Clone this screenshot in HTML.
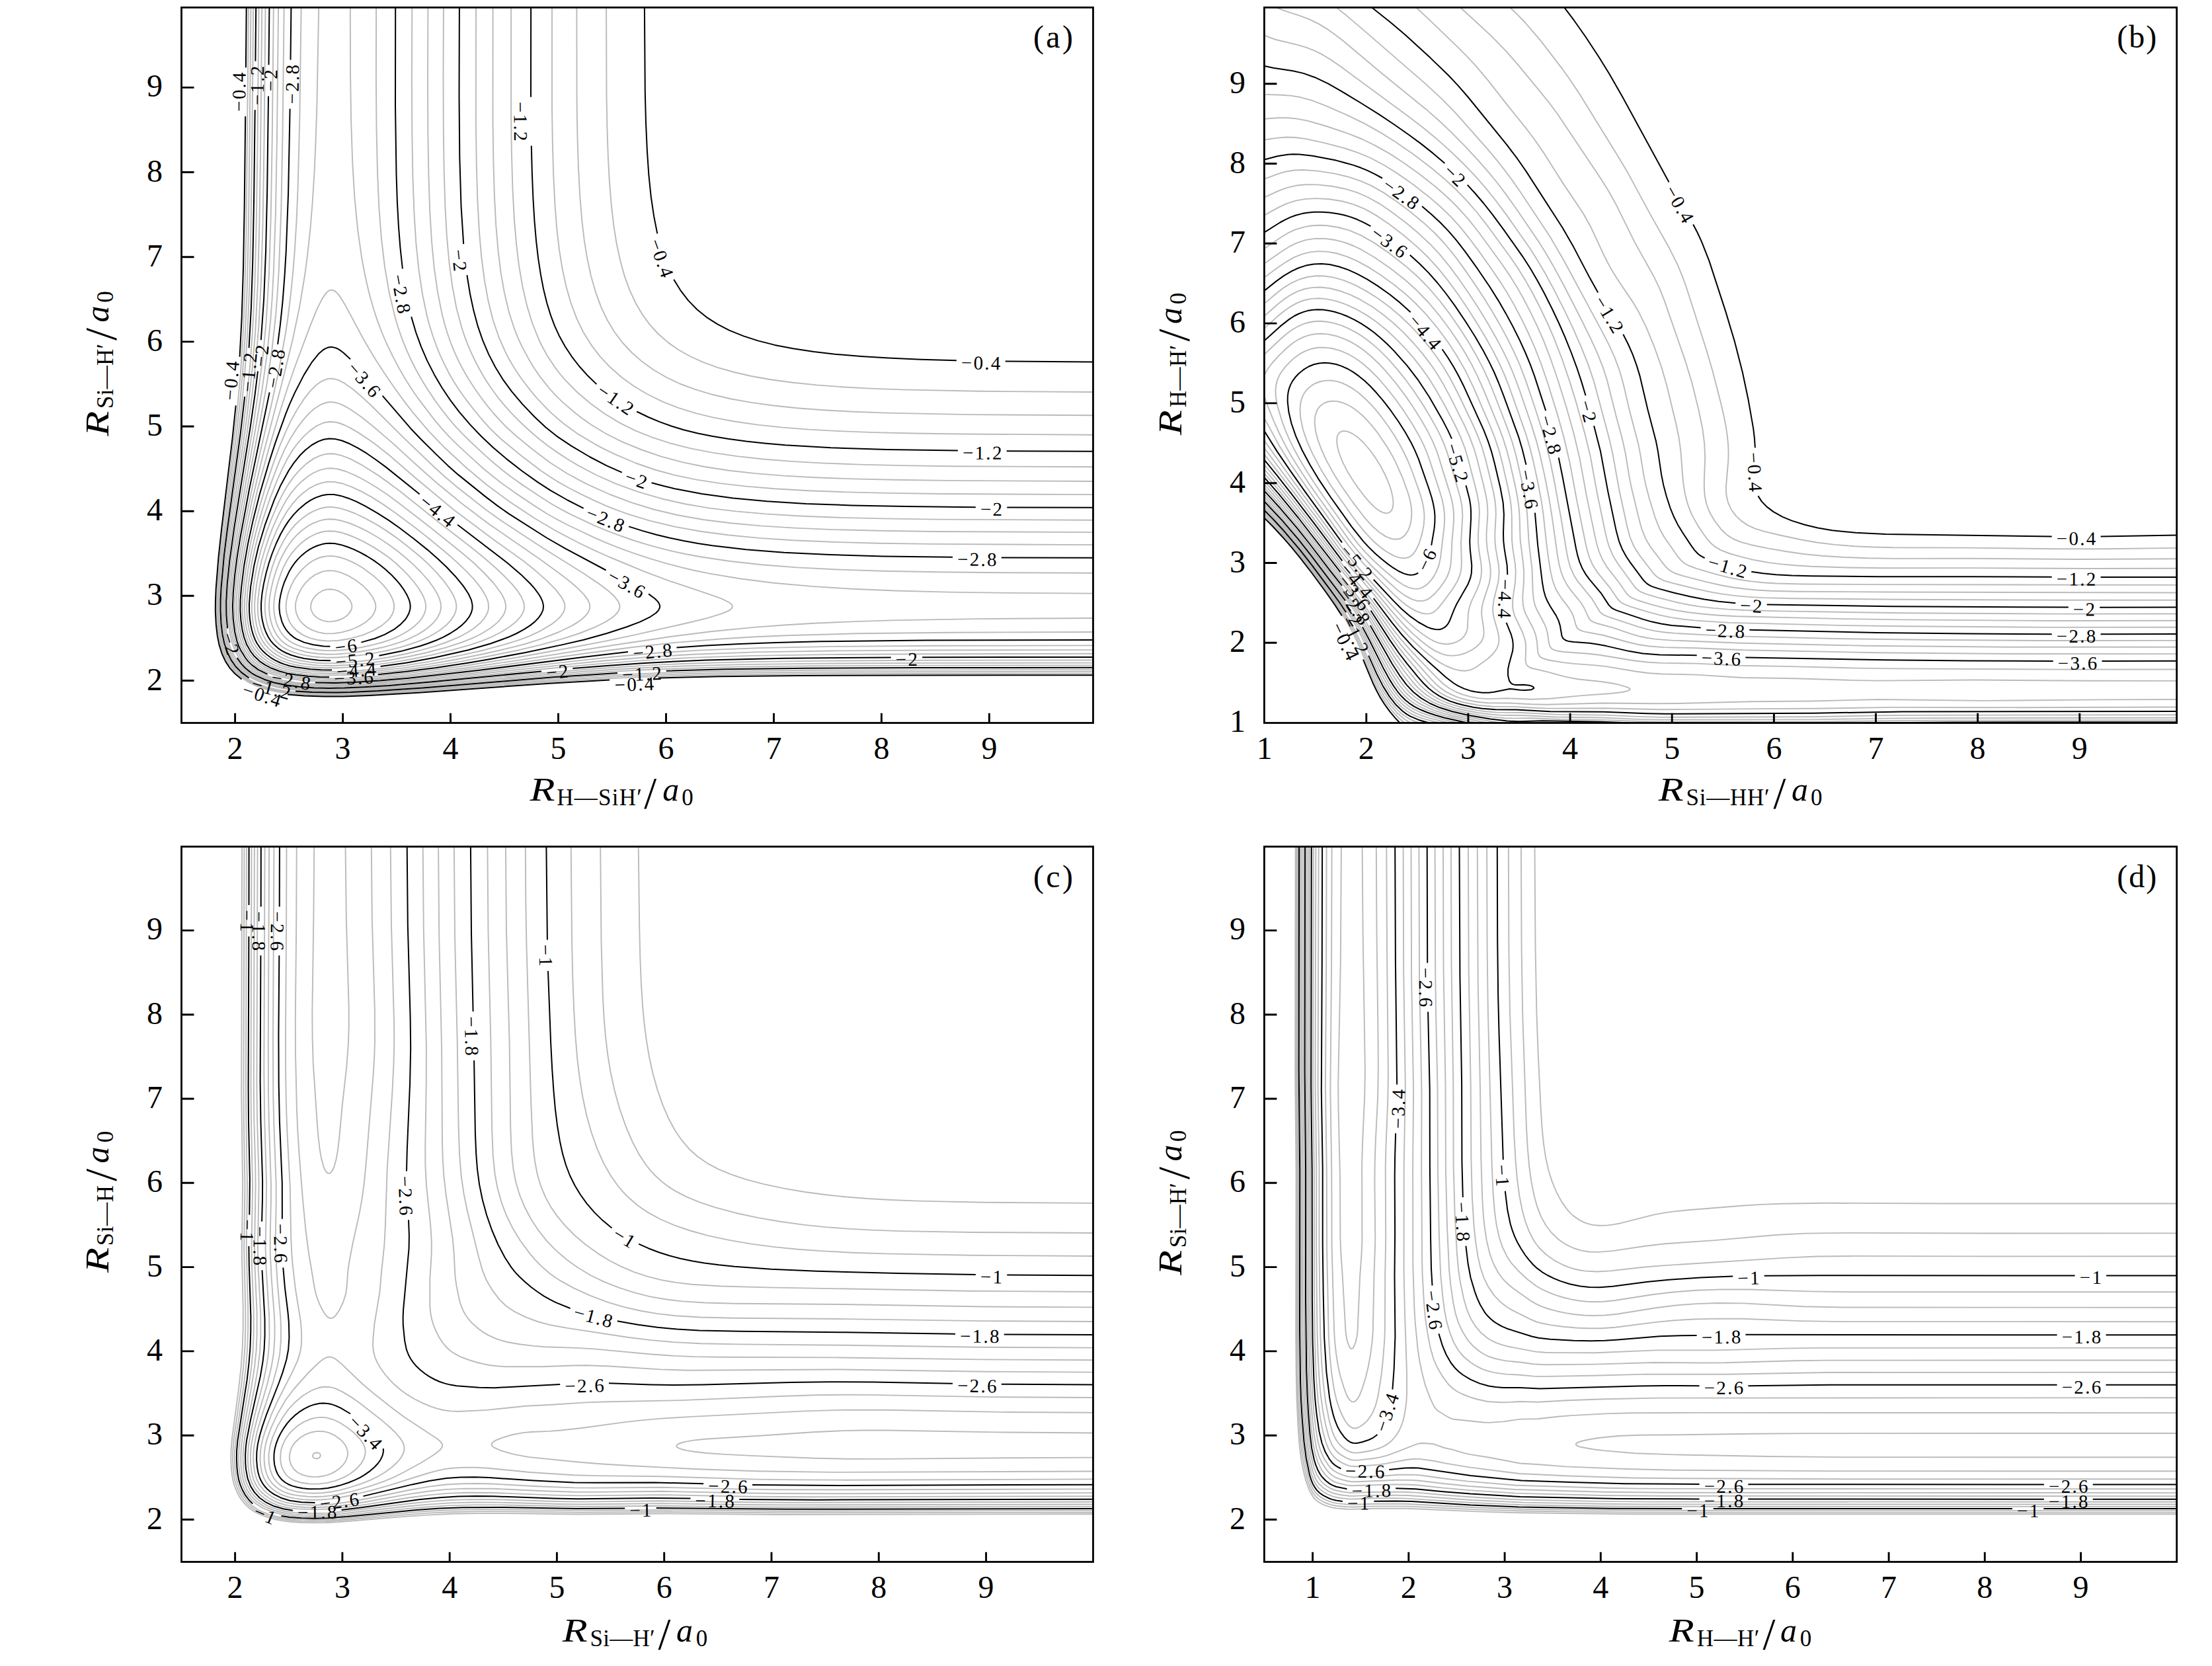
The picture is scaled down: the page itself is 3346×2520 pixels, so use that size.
<!DOCTYPE html>
<html lang="en"><head><meta charset="utf-8"><title>Potential energy contour plots</title>
<style>html,body{margin:0;padding:0;background:#fff}svg{display:block}text{font-family:'Liberation Serif', 'DejaVu Serif', serif;fill:#000}</style></head>
<body>
<svg width="3346" height="2520" viewBox="0 0 3346 2520">
<rect width="3346" height="2520" fill="#fff"/>
<g id="panel-a">
<path d="M489.5 939.1l-6.3-2.4l-5.8-3.9l-3.6-3.9l-3-5.8l-0.8-3.8l0.4-5.8l2.1-5.9l4.1-5.8l5-4.6l6-3.5l5.9-2l5.9-0.5l5.9 0.7l5.9 1.8l6 3.1l6.7 5l5.1 5.8l2.2 3.9l1.1 3.9l0 3.9l-1.1 3.8l-4 5.8l-4.1 3.6l-3.6 2.3l-4.3 2.1l-5.9 2.1l-9.9 1.4l-3.9-0.2l-6-1.1M491.5 958.2l-9.9-1.8l-9.8-3.5l-8.2-4.6l-6.7-5.8l-3.2-3.9l-2.4-3.8l-3.2-7.6l-1.3-7.9l0.5-7.8l2.8-10l5.7-11.3l6.1-8.3l7.9-7.7l7.9-5.4l9.9-4.2l7.9-1.5l9.8 0.3l9.9 2.4l11.8 5.1l11.9 7.1l9.8 7.7l8.4 8.4l7 9.7l3.4 7.7l0.8 3.9l0 3.9l-0.8 3.8l-1.5 3.9l-2.4 3.9l-3.1 3.9l-7.8 6.7l-9.9 5.9l-11.8 5.1l-13.8 3.9l-13.9 2l-11.8-0.2M495.5 969.6l-13.9-1.3l-11.8-2.9l-5.9-2.2l-5.9-2.8l-9-6.3l-4.1-3.9l-3.2-3.8l-3.5-5.5l-1.9-4.2l-2.8-9.7l-0.8-5.8l-0.1-5.8l0.6-5.8l1.5-7.8l2.4-7.7l3.1-7.7l3.9-7.8l3.6-5.8l8.3-10.6l9.9-9.1l5.9-4.1l5.9-3.1l5.9-2.4l5.9-1.5l6-0.9l5.9-0.1l5.9 0.6l7.9 1.7l7.9 2.6l8.6 3.7l9.1 4.6l7.9 4.8l16.2 11.9l13.4 12.5l5.8 6.8l4.2 5.8l3.5 5.8l2.6 5.8l1.5 5.9l0.3 5.8l-1.2 5.8l-1.6 3.8l-3.2 5.3l-3.8 4.4l-9.1 7.8l-13.1 7.7l-15.5 6.5l-17.8 5.1l-19.7 3.3l-15.7 0.6M481.6 983.3l-17.7-3l-7.9-2.2l-7.3-2.7l-6.5-3.1l-4.5-2.7l-4.9-3.9l-4.4-4.6l-4-5.4l-3.9-7.3l-2.3-5.9l-2.2-7.7l-1.3-7.8l-0.6-7.7l0.3-7.8l0.8-7.7l2.2-11.6l3.1-11.7l3.9-11.6l3.9-9.7l4-8.2l4.2-7.2l5.7-8l5.9-6.9l5.9-5.8l7.9-6.5l7.9-5.1l7.9-3.8l7.9-2.7l5.9-1.2l7.9-0.6l7.9 0.6l9.9 2l9.8 3.2l11.9 4.8l11.8 5.8l13.8 7.8l11.8 7.5l11.9 8.4l9.8 8l10.7 9.9l9.4 9.7l8.3 9.6l7.2 9.7l5.7 9.7l3.3 7.7l1.6 7.8l-0.2 5.8l-2.3 7.7l-3.3 5.9l-4.6 5.8l-6 5.8l-7.5 5.8l-9.2 5.8l-11.3 5.8l-9.4 3.9l-11.6 3.8l-14.4 3.9l-15.7 3.4l-14.3 2.4l-15.6 2l-13.5 0.9l-11.8 0l-11.9-0.8M481.6 989l-9.8-1.2l-9.9-1.8l-16.2-4.8l-7.5-3.3l-5.9-3.5l-5.9-4.6l-3.9-4.1l-4.3-5.8l-3.6-6.7l-2.8-6.8l-2.3-7.8l-1.5-7.7l-0.9-9.7l-0-7.7l0.9-9.7l2.3-13.6l2.7-11.6l4-13.5l5-13.6l4.4-9.7l5.9-10.8l5.9-9l5.8-7.3l6.1-6.5l7.9-6.9l7.9-5.6l7.9-4.3l9.8-3.8l7.9-1.8l7.9-0.6l7.9 0.6l9.9 2l11.8 3.7l13.8 5.8l13.8 6.9l14.8 8.6l14.8 9.7l13.8 10l13.8 11.2l12.9 11.7l11.5 11.6l10.1 11.6l7.1 9.7l5.9 9.7l3.5 7.7l2.1 7.8l0 7.7l-1.5 5.8l-4 7.8l-6.2 7.7l-6.3 5.8l-7.8 5.8l-9.5 5.8l-11.8 5.8l-9.9 4.1l-17 5.6l-14.6 3.9l-17.7 3.7l-15.8 2.7l-17.8 2.4l-17.7 1.4l-13.8 0.3l-13.9-0.8M495.5 994.8l-11.9-0.5l-11.8-1.3l-9.9-1.6l-9.8-2.3l-7.9-2.4l-8.7-3.5l-6.9-3.9l-5.3-3.9l-4.8-4.5l-4.3-5.2l-3.7-5.8l-3.8-8.4l-2.4-7.1l-2.2-9.6l-1.2-9.7l-0.2-9.7l0.8-11.6l2.5-15.5l3.5-15.5l4.4-15.5l4.6-13.1l6-13.6l5.9-11.6l6.1-10.1l5.7-7.9l7.9-8.8l7.9-7.3l9.9-7.2l7.9-4.4l9.8-4l9.9-2.1l7.9-0.3l9.8 1.2l11.9 3.2l13.8 5.2l15.8 7.6l17.7 9.8l15.8 10l13.8 9.7l18.9 14.7l16.5 13.5l12 10.9l12.1 12.4l11.7 13.5l8.5 11.6l5.8 9.7l3.9 9.7l1.1 7.7l-0.7 5.8l-2.9 7.8l-5.3 7.7l-5.4 5.8l-9.4 7.8l-8.8 5.8l-10.6 5.8l-13.2 5.8l-16.4 5.7l-13.3 4l-15.2 3.9l-18.9 3.9l-21.7 3.5l-17.7 2.2l-19.8 1.7l-15.7 0.3M479.7 1002.7l-11.9-1.3l-11.8-1.9l-11.8-2.7l-7.9-2.5l-7.9-3.4l-7.9-4.5l-7-5.2l-5.9-5.8l-4.5-5.8l-4.3-7.5l-3.3-8l-2.6-9.1l-2-10.2l-0.9-9.7l-0.2-9.7l0.7-11.6l2.3-17.4l2.9-15.5l4.3-17.5l4.7-15.8l6.1-17.1l7.7-18.4l7.9-15.7l7.9-13.2l7.9-10.9l7.9-9l7.9-7.3l9.8-7.3l9.9-5.2l9.9-3.4l7.9-1.3l9.8 0.1l11.9 2.3l13.8 4.9l15.7 7.2l15.8 8.8l17.8 11.3l17.7 12.3l31.5 23.5l19.6 15.5l25.7 21.3l15.5 13.6l14.3 13.5l12.7 13.6l10.7 13.5l6.9 11.6l2.5 5.8l1.1 3.9l0.6 7.8l-0.6 3.8l-1.2 3.9l-4.3 7.8l-6.7 7.7l-9.3 7.7l-12 7.8l-11.2 5.8l-18.6 7.7l-17 5.8l-20.2 5.9l-24 5.8l-25.8 5.2l-23.7 3.7l-23.7 2.9l-25.6 2.1l-17.8 0.5l-17.7-0.7M479.7 1006.4l-23.7-2.8l-11.8-2.5l-8.5-2.5l-9.3-3.7l-7.4-4l-6.4-4.4l-5.9-5.1l-5.5-6l-4.1-5.8l-3.1-5.8l-3.1-7.8l-2.7-9.6l-1.8-9.7l-1.1-11.6l-0.2-9.7l0.8-13.6l2.2-17.4l2.8-15.5l4.4-19.3l5.5-18.9l5.9-17.5l5.9-15.3l7.9-17.8l7.9-15.5l5.9-10.1l5.9-8.6l7.9-9.5l7.9-7.9l9.9-8l7.9-5l9.8-4.4l9.9-2.5l7.9-0.4l9.8 1.3l11.9 3.5l13.8 5.9l13.8 7.1l17.7 10.5l17.8 11.8l15.8 11.6l50.8 39.3l48.1 38.8l15.8 13.5l16.1 15.5l14.2 15.5l10.1 13.5l3.5 5.8l2.6 5.8l1.9 7.8l0 3.9l-0.7 3.8l-1.3 3.9l-2 3.9l-4.2 5.8l-3.6 3.9l-4.2 3.8l-7.5 5.8l-12.3 7.8l-15.5 7.7l-14.9 5.8l-24.1 7.8l-28.9 7.7l-26 5.8l-31.7 5.9l-31.6 4.4l-31.6 2.9l-23.6 1l-21.7-0.6M489.5 1010.3l-13.8-0.8l-13.8-1.4l-13.8-2.3l-11.8-2.9l-9.9-3.5l-7.9-3.9l-7.3-4.6l-7.2-5.8l-5.6-5.8l-5.5-7.7l-4-7.7l-2.8-7.9l-2.4-9.6l-1.9-11.6l-0.9-11.7l0.1-11.6l1.6-19.3l2.9-19.4l4.2-21.3l5.1-20.1l7.9-25.2l7.9-21.3l9.9-23.2l7.9-16l7.9-13.3l7.9-11l9.8-11.2l9.9-9.1l9.9-7l9.8-4.7l9.9-2.7l7.9-0.4l5.9 0.5l7.9 1.8l7.9 2.7l7.9 3.4l17.7 9.5l21.7 13.7l17.8 12.5l15.8 11.8l59.1 47.2l54.9 42.7l16.6 13.6l15.4 13.5l14.3 13.6l11 11.6l7.8 9.7l6.1 9.7l3.1 7.7l0.7 5.8l-0.3 3.9l-1.1 3.9l-1.8 3.8l-2.4 3.9l-7 7.8l-9.8 7.7l-12.5 7.7l-15.5 7.8l-14.1 5.8l-17 5.8l-27.4 7.8l-31.8 7.7l-28.1 5.8l-30.1 5.2l-29.6 4l-27.6 2.7l-25.7 1.6l-21.7 0.1M485.6 1016.1l-15.8-1l-13.8-1.5l-11.8-1.8l-11.9-2.8l-7.9-2.6l-9.8-4.4l-8.9-5.3l-7.4-5.8l-5.8-5.8l-5.5-7.2l-4-7l-3.6-9l-2.6-9.7l-2-11.6l-1.3-13.6l-0.2-11.6l1.1-19.4l2.7-22.2l3.9-23.5l4.8-22l6.1-23.3l6.9-22.6l9.9-29l9.8-25.2l7.9-17.9l7.9-15.7l7.9-13.2l7.9-10.7l9.8-11.1l9.9-9l9.9-6.8l9.8-4.3l7.9-1.5l7.9 0.2l7.9 1.8l7.9 3l9.9 4.9l11.8 7l13.8 9.2l13.8 10l19.8 15.6l39.3 34l55.8 46.5l60.7 45.5l44.4 31.9l19.5 15.5l17.5 15.5l13.5 13.6l9 11.6l3.7 7.7l0.8 3.9l0 3.9l-0.9 3.8l-1.7 3.9l-2.6 3.9l-3.4 3.9l-4.1 3.8l-7.6 5.8l-16.2 9.7l-16.3 7.8l-15.1 5.8l-24.9 7.7l-29.1 7.8l-33.6 7.7l-48.8 9.7l-35.6 5.8l-32.2 4.3l-37.5 3.5l-33.6 2l-25.6-0.1M471.8 1018.1l-15.8-1.6l-13.8-2.1l-9.9-2.2l-9.8-3.1l-9.9-4.2l-7.6-4.3l-8-5.8l-6.1-5.8l-5.9-7.3l-4-6.5l-3.4-7.5l-3.1-9.7l-2.4-11.6l-1.7-13.6l-0.6-11.6l0.3-13.6l2-23.2l3.5-25.2l4.7-25.1l6.3-27.1l6.3-23.1l9.8-32.2l9.9-28.1l9.9-25.5l7.9-17.9l7.8-15.1l9.9-15.8l9.9-13.4l9.8-11l7.9-6.9l9.9-6.2l7.9-2.8l3.9-0.7l5.9 0l6 1.1l5.9 2l5.9 2.7l7.9 4.4l17.7 12.2l17.8 14.3l27.6 23.6l43.4 39.6l24 21.3l39.2 32.3l41.4 31.2l76.5 52.7l29.2 21.3l17.5 13.5l11.2 9.7l9.3 9.7l5.6 7.7l2.4 5.9l0.5 3.8l-0.5 3.9l-1.5 3.9l-2.5 3.8l-3.5 3.9l-4.4 3.9l-5.2 3.9l-9.5 5.8l-19.8 9.6l-24.6 9.7l-24.5 7.8l-22.1 5.8l-42 9.7l-38.2 7.7l-43.5 7.7l-44.6 6.5l-39.4 4.4l-39.5 2.9l-29.6 0.9l-25.6-1M463.9 1020.1l-15.8-1.9l-11.8-2.1l-9.9-2.6l-9.9-3.4l-8.2-3.7l-9.5-5.8l-7.2-5.8l-6.6-7.2l-5.8-8.3l-3.8-7.8l-2.8-7.7l-2.5-9.7l-2-11.6l-1.3-13.6l-0.3-13.5l0.6-13.6l2.3-23.2l3.9-27.1l5.8-30.3l5.9-25.8l7.9-29.7l7.9-26.7l11.8-35.9l9.9-27l9.8-23.3l7.9-16.6l9.9-17.8l9.8-15l9.9-12.5l7.9-7.9l5.9-4.5l4-2.4l7.9-2.9l3.9-0.6l3.9 0.1l7.9 2l9.9 5l11.8 8.4l11.9 9.8l15.8 14.6l51.5 51.2l44.5 42.6l17.1 15.5l17.1 14.4l43.2 34l25.8 18.5l59.2 38.8l63.2 39.5l25.8 17.4l12.6 9.7l8.5 7.7l6.1 7.8l2.2 5.8l0 3.9l-1.3 3.8l-2.5 3.9l-3.7 3.9l-4.8 3.9l-5.8 3.8l-6.8 3.9l-11.9 5.8l-24.1 9.7l-23.4 7.7l-35.1 9.7l-32.6 7.8l-47.1 9.6l-41.7 7.8l-48.1 7.7l-48.5 6.4l-43.4 4.2l-39.4 2.4l-27.7 0.3l-25.6-1.5M473.8 1025.8l-15.8-1.3l-15.8-2l-12.7-2.6l-11-3.1l-9.8-3.7l-9.5-4.8l-8.3-5.5l-6.8-6.1l-6.4-7.7l-4.8-7.8l-4.5-9.7l-3.1-9.6l-2.4-11.7l-1.8-13.5l-0.7-13.6l0.2-15.5l1.7-23.2l3.1-25.2l3.8-24l5.9-31.2l13.8-60.8l17.8-65l17.7-58.7l11.9-36.8l11.8-33.5l21.7-57.9l9.9-24.1l7.9-15.8l5.9-8.3l3.9-3.3l2-0.9l3.9-0.1l4 2l3.9 3.8l4 5.3l7.9 13.2l26.5 49.6l18.4 31l13.8 21.3l14.6 21.3l14 19.3l13.5 17.5l24.6 29l24.3 25.2l31.1 29l32.2 27l35.6 26.2l36.7 24.2l30.3 18.1l37.5 19.7l21.7 10.4l23.7 10.6l53.3 22.2l39.4 14.6l61.4 20.6l15.9 5.8l11.8 5.8l2.4 2l1.6 1.9l0.5 1.9l-0.5 2l-1.6 1.9l-2.7 1.9l-3.6 2l-9.8 3.8l-19.6 5.9l-31.2 7.7l-76.6 17.4l-45.7 9.7l-50.3 9.7l-85.6 15.5l-85.8 13.5l-53.5 7.1l-45.3 5.1l-37.2 3.3l-35.8 2.1l-25.7 0.6l-23.6-0.7M1653.5 935l-175.6 1.1l-130.2 2.3l-55.2 1.7l-61.2 2.7l-45.4 2.7l-45.3 3.4l-65.1 6.3l-61.2 7.8l-88.8 13.2l-140.7 22.4l-79.9 11.7l-57.5 7.2l-39.3 4.4l-35.7 3.3l-35.5 2.4l-29.6 1.1l-21.7-0.1l-21.7-1.2l-21.7-2.5l-15.8-3.2l-15.8-5l-13.8-6.4l-8.7-5.9l-4.5-3.8l-4.5-4.9l-7.6-10.6l-5.6-11.6l-3.7-11.6l-3.2-17.5l-1.5-19.3l0.1-17.5l1.7-22.9l3.3-27.4l3.9-25.2l6.6-36.1l7.9-37.8l15.8-66l28.9-109.8l17.2-69.7l10.2-48.4l8.3-50.3l4-31l4-36.8l3.3-40.6l2.8-44.6l1.9-42.6l1.9-56.1l2.9-151M529.8 11.3l0.2 96.8l1.1 75.5l2.2 63.9l3 50.3l4.9 50.4l6.1 42.5l4 21.3l4.2 19.4l4.3 17.4l5.6 19.4l5.7 17.4l6.6 17.4l7.5 17.5l8.4 17.4l9.1 17.4l10 17.4l9.8 15.5l10.7 15.5l23.6 31l11.4 13.5l10.7 11.6l13.8 13.8l25 23l15.2 13.6l15.1 12.4l14.3 10.8l17.2 12.2l27.9 18.8l19.5 12.3l15.7 9l15.9 8.3l41.4 19.7l19.7 8.5l19.7 7.7l21.7 7.7l23.7 7.7l23.7 7l21.7 5.8l19.7 4.6l23.7 4.9l47.3 7.9l49.4 6.2l57.2 5.2l61.1 3.9l65.1 2.7l80.9 2.1l96.7 1.3l122.3 0.7M1653.5 956l-215 0.7l-142.1 1.6l-106.5 2.9l-47.4 2.1l-49.3 2.9l-71 5.7l-63.1 6.9l-71.1 9.2l-144.2 20.3l-94.3 11.6l-67.2 6.8l-31.6 2.3l-27.6 1.5l-23.7 0.5l-21.7-0.5l-21.7-1.5l-19.7-2.7l-15.8-3.6l-13.7-4.7l-12-5.7l-8.9-5.9l-8.2-7.8l-7.2-9.6l-6.2-11.7l-4.1-11.6l-2.9-13.5l-2.1-17.4l-0.6-17.5l0.8-19.3l2-22.2l3-24.3l8.8-52.8l13.8-68.2l9.9-43.9l16.9-71.3l12.2-56.1l9.8-54.2l3.8-25.2l3.8-31l3.6-34.8l2.9-36.8l2.6-42.6l2-46.5l2.8-108.4l2.3-168.4M569.1 11.3l-0.2 106.5l0.6 77.4l1.5 65.8l2.4 54.2l3.6 46.5l5.1 42.6l6.7 38.7l8.3 34.9l5.1 17.4l6 17.4l6.2 15.5l7 15.5l7.9 15.5l8.7 15.5l9.6 15.5l10.4 15.4l9.9 13.6l10.6 13.5l9.9 11.7l10.3 11l14.4 14.1l21.1 19.6l13.8 12.2l13.1 10.8l12.7 9.7l16.5 11.6l26.7 17.9l17.7 11.2l13.9 7.9l15.8 8.3l33.5 15.7l19.7 8.2l19.8 7.5l19.7 6.9l19.7 6.2l19.8 5.5l19.7 4.9l21.7 4.7l21.7 4l43.4 6.5l49.3 5.4l53.3 4.2l61.1 3.1l69.1 2.2l82.8 1.5l98.7 1l136.1 0.5M1653.5 976.4l-238.7 0.4l-153.9 1.1l-112.4 2.2l-90.8 3.5l-65.1 4.2l-67.1 6l-69 7.6l-142.9 16.6l-91.5 9.7l-57.6 4.8l-51.3 2.5l-23.7 0.1l-21.7-0.9l-21.7-2l-15.7-2.5l-15.8-3.9l-11.9-4.2l-11.8-5.6l-9.9-6.6l-7.9-7.5l-6.8-9.1l-6.4-11.6l-4.3-11.6l-3.1-13.6l-2.1-15.4l-1-17.5l0.2-17.4l1.5-21.3l2.2-21.3l5.9-42.6l12-68.3l23-119.5l9.5-52.2l7.8-52.3l5.7-52.3l2.5-32.9l2.2-36.8l3.4-89l2.2-114.2l2.2-191.7M623.3 11.3l-0.4 110.3l0.4 79.4l1.1 65.8l2 54.3l2.9 46.4l4.2 40.7l5.5 36.8l6.9 32.9l4.2 15.5l4.8 15.4l5.6 15.5l5.6 13.6l6.3 13.5l7 13.6l7.4 12.7l8 12.5l9.6 13.5l11.9 15.5l11.9 14.3l11.5 12.8l9.6 9.7l10.5 9.7l29.6 24.4l29.6 22.4l13.8 9.3l11.8 7.3l15.8 8.9l19.8 10.2l17.7 8.5l17.8 7.9l15.7 6.3l17.8 6.4l33.5 10.3l37.5 9l39.5 7.2l41.4 5.5l47.4 4.6l51.3 3.4l59.1 2.5l69.1 1.9l82.8 1.2l242.7 1.2M1653.5 983.1l-244.6 0.4l-151.9 1l-114.5 1.9l-92.7 3.3l-67.1 4l-69 5.8l-61.2 6.1l-187.9 20.1l-60.7 5.8l-51.2 3.7l-41.5 1.8l-23.6 0l-21.7-0.9l-21.7-2.1l-15.6-2.5l-15.4-3.8l-12.4-4.4l-11.9-5.7l-9.8-6.6l-7.9-7.4l-6.8-8.8l-6.5-11.6l-4.5-11.7l-3.2-13.5l-2.4-17.4l-0.9-17.5l0.2-17.4l2.9-36.8l5.2-40.6l8.1-49.7l24.6-138.1l8.4-50.3l7.6-54.3l5.4-52.2l2.4-32.9l2.1-38.8l3.1-89l2.1-118.1l2.1-193.6M647.4 11.3l-0.4 108.4l0.3 79.4l1.1 65.8l1.8 54.2l2.8 46.5l3.9 40.6l5 34.9l6.5 32.9l4 15.5l4.6 15.2l4.8 13.8l5.5 13.6l6.2 13.5l7.1 13.6l7.8 13.5l8.7 13.6l9.4 13.5l9.6 12.8l10.3 12.4l10.5 11.6l9.5 9.7l11.2 10.4l27.3 22.5l27.9 21l24.7 15.8l14.8 8.2l15.7 8.1l33.6 15.2l33.5 12.7l33.6 10.3l35.5 8.5l39.4 7l41.5 5.2l45.3 4.2l51.3 3.2l59.2 2.5l69.1 1.7l82.8 1.2l240.7 1.1M1653.5 988.8l-248.6 0.4l-153.9 0.9l-114.4 1.8l-92.7 3l-73 4.2l-73 5.8l-65.1 6.1l-184 18.6l-44.8 4l-53.3 3.7l-41.4 1.6l-23.7 0l-21.7-1l-19.7-1.9l-16.4-2.5l-15.2-3.8l-13.8-4.8l-11.8-5.7l-9.9-6.6l-7.9-7.4l-6.6-8.5l-6.6-11.6l-4.6-11.6l-3.4-13.6l-2.4-17.4l-1.1-17.4l0.1-17.5l2.5-34.8l4.3-37l6-39.5l24.5-146.1l8.1-52.3l7.6-58.1l5-52.3l4.3-71.6l2.8-87.1l2-116.2l2.1-201.3M670.9 11.3l-0.4 106.5l0.3 77.4l0.9 63.9l1.7 54.2l2.5 44.5l3.7 40.7l4.7 34.8l6.2 32.9l7.8 29.1l4.5 13.5l5.2 13.6l5.9 13.5l6.6 13.6l7.3 13.5l8.3 13.9l7.6 11.3l8.5 11.6l9.4 11.6l10.3 11.7l11.2 11.6l12.1 11.6l12 10.7l11.8 9.7l11.8 9l13.8 9.7l14.4 9.3l15.2 9.2l27.7 14.6l29.5 13.2l33.6 12.1l35.5 10.4l35.5 8.1l37.5 6.3l39.4 4.8l45.4 4l51.3 3.1l57.2 2.3l67.1 1.6l82.9 1.2l236.7 1.1M1653.5 998.5l-254.5 0.3l-153.9 0.8l-116.4 1.5l-90.7 2.6l-67.1 3.2l-67.1 4.4l-73 5.8l-223.7 20.3l-54.4 3.5l-45.4 1.7l-23.7-0.2l-21.7-1l-19.7-1.8l-15.8-2.4l-15.6-3.7l-14-4.7l-11.8-5.6l-10.9-7.1l-8.6-7.8l-7.6-9.7l-6.4-11.6l-4.6-11.6l-3.4-13.5l-2.2-15.5l-1.3-17.5l0-19.3l2.5-38.7l5-43.4l5.9-41.1l20.4-132.4l7.7-58l5.9-54.2l4-48.4l3.7-71.7l2.5-87.1l1.9-120l2-203.3M720 11.3l-0.1 176.2l0.9 63.9l1.6 52.2l2.5 46.5l3.4 38.7l4.5 34.9l5.6 30.9l7.2 29.1l8.5 25.1l10.2 23.3l6 11.6l6.8 11.6l7.6 11.6l8.3 11.6l10.2 13.2l9.9 11.6l19 19.8l20.1 17.4l22 15.9l25.7 15.4l15.8 8.3l15.7 7.6l30.2 12.8l29 10l29.6 8.1l33.6 7l35.5 5.5l39.4 4.5l43.4 3.7l51.3 2.9l57.2 2.2l65.1 1.5l80.9 1.1l226.9 1.1M1653.5 1002.6l-256.5 0.3l-155.8 0.7l-118.4 1.5l-90.7 2.4l-71.1 3.3l-67 4.2l-69.1 5.3l-218.4 19l-55.8 3.5l-45.4 1.5l-23.7-0.2l-21.7-1.1l-19.7-1.8l-17.7-2.9l-15.8-4l-13.8-4.9l-11.2-5.6l-10.5-7.3l-8.8-8.2l-7-9.2l-5.9-10.8l-5-12.9l-3.3-13.5l-2.1-15.5l-1.3-17.5l-0.1-17.4l1.9-32.9l3.7-36.8l5.6-42.6l19.5-131.6l5.5-40.7l7.6-67.7l4.8-58.1l3.6-71.6l2.4-87.2l1.8-116.1l2.2-214.9M745.6 11.3l-0.1 172.3l0.9 62l1.5 50.3l2.3 44.5l3.3 38.7l4.3 34.7l5.2 29.2l6.9 29.1l8.1 25.1l5.4 13.6l5.3 11.6l12.4 23.2l7.2 11.6l7.9 11.7l15.3 19.3l8.9 9.7l9.8 9.7l20.3 17.4l11.6 8.9l11.9 8.3l22.6 13.8l24.7 12.3l29.6 12.2l29.6 10.1l31.6 8.5l33.5 6.9l37.5 5.7l39.4 4.4l43.4 3.5l47.4 2.6l57.2 2.2l63.1 1.4l78.9 1.1l221 1.1M1653.5 1006.4l-260.4 0.2l-157.8 0.7l-118.4 1.5l-90.8 2.3l-63.1 2.6l-67.1 3.9l-69 5l-222 18.6l-56.2 3.4l-45.4 1.4l-23.6-0.3l-23.7-1.2l-19.7-2l-15.8-2.7l-15.8-4.1l-13.8-5l-10.1-5l-11.3-7.7l-8.4-7.7l-7.5-9.7l-6.1-11.1l-4.7-12.2l-3.4-13.5l-2.3-15.5l-1.3-17.4l-0.2-19.4l2-34.8l4.1-40.7l5.8-44.2l18.8-132l6.2-50.3l5.5-54.2l3.9-52.3l3.5-73.5l2.3-87.2l1.8-121.9l2-209.1M773.1 11.3l0 164.6l0.9 60l1.5 50.3l2.3 44.5l3.3 38.8l4 32.9l5.3 30.9l6.7 29.1l8.3 27.1l9.7 24l5.2 10.8l6.3 11.6l12.6 19.4l7.4 9.7l8.2 9.7l17.5 17.8l19.8 17l21.6 15.7l23.7 14.4l23.6 11.8l25.7 10.3l27.6 8.9l29.6 7.5l33.5 6.5l37.5 5.5l39.5 4.4l43.4 3.4l47.3 2.7l55.3 2l63.1 1.5l76.9 1.1l213.1 1.1M1653.5 1012.9l-422.2 0.8l-118.4 1.3l-92.7 2.1l-63.1 2.5l-69.1 3.7l-61.1 4.1l-227.9 17.7l-52.3 2.9l-43.4 1.2l-23.6-0.3l-23.7-1.2l-19.7-1.8l-16.6-2.7l-15.9-3.9l-14.9-5.2l-11.8-5.9l-9.9-6.8l-9.8-8.9l-6.5-8.1l-5.7-9.6l-5.7-13.6l-3.7-13.5l-2.4-15.5l-1.6-19.4l-0.3-19.3l1.9-36.8l4.1-42.6l22.7-174.3l5.6-48.4l4.7-50.3l3.6-52.3l3.2-73.5l2.2-89.1l1.7-123.9l2-211M835 11.3l0 152.9l0.9 56.2l1.4 46.4l2.1 42.6l2.9 36.8l3.6 31l4.7 29.4l5.8 26.7l7.2 25.2l8.7 23.2l9.8 20.3l11.9 19.3l13.8 18l15 16l17.6 15.5l18.7 13.5l19.7 11.7l23.6 11.6l23.7 9.3l25.7 7.9l27.6 6.8l31.6 5.9l35.5 5.1l35.5 3.8l41.4 3.2l45.5 2.5l53.2 2l61.1 1.4l71 1l199.3 1.2M1653.5 1015.8l-426.1 0.8l-114.5 1.2l-92.7 2l-69 2.6l-69.1 3.7l-63.1 4.2l-222.9 16.6l-51.3 2.7l-43.4 1.1l-25.7-0.4l-23.6-1.3l-19.3-2l-16.3-2.8l-15.7-4l-13.8-4.9l-11.3-5.7l-10.5-7.2l-9.1-8.3l-7.8-9.7l-6.4-11.6l-4.6-11.6l-3.6-13.5l-2.3-15.5l-1.6-19.4l-0.2-19.3l1.7-34.9l3.9-42.6l21.4-170.3l5.7-50.4l4.6-50.3l3.7-54.2l3.1-71.7l2.1-89l1.6-122l2.1-216.8M872.4 11.3l0.2 145.2l0.9 52.3l1.5 46.4l2.2 40.7l3 36.7l3.6 31l4.4 27.1l5.8 26.8l6.7 23.6l8.5 23.2l9.2 19.4l11.1 18.5l12.3 16.3l14.6 15.5l15.6 13.6l16.7 11.9l19.7 11.5l20.1 9.5l23.3 8.7l25.6 7.6l27.7 6.4l31.5 5.7l33.6 4.6l35.5 3.7l39.4 3l45.4 2.5l51.3 1.9l124.3 2.5l187.4 1.1M1653.5 1018.6l-426.1 0.7l-120.4 1.2l-90.7 2l-67.1 2.4l-69 3.6l-61.2 3.9l-221 16l-53.2 2.7l-43.4 1.1l-23.7-0.3l-23.7-1.2l-19.7-1.9l-17.8-2.9l-15.7-3.9l-13.8-4.7l-11.9-5.9l-11.2-7.6l-8.7-7.7l-8.1-9.7l-5.6-9.7l-5.7-13.5l-3.7-13.6l-2.5-15.5l-1.6-19.3l-0.4-19.4l1.4-31l3-36.8l4.4-40.6l12.6-100.7l8.8-75.5l5.9-63.9l3.8-58.1l2.8-69.7l2.1-89l3.6-338.8M917.1 11.3l0.4 133.6l0.9 48.4l1.5 44.5l2 36.8l2.8 34.8l3.5 31l4.3 27.1l5.8 27.1l6.5 23.3l7.8 21.2l9 19.4l10.2 17.4l11.4 15.5l12.4 13.6l14.8 12.9l15.7 11.1l17.8 10l19.7 8.9l21.7 7.9l25.3 7.2l26 6l29.6 5.2l33.6 4.6l35.5 3.6l37.4 2.8l43.4 2.4l47.4 1.8l118.4 2.4l171.6 1.2" fill="none" stroke="#bababa" stroke-width="1.9" stroke-linejoin="round"/>
<path d="M489.5 977.4l-15.7-2.1l-13.9-3.7l-11.8-5.3l-4-2.5l-4.8-3.9l-3.7-3.9l-3.3-4.2l-3.2-5.4l-2.6-5.8l-3.1-11.7l-0.9-7.7l-0.1-5.8l0.7-7.8l1.4-7.7l2.4-9.7l3.2-9.7l7-15.4l4.6-7.8l4.1-5.8l4.3-5.1l5.9-6l5.9-4.9l5.9-4.1l6-3.3l5.9-2.6l7.9-2.4l5.9-1l5.9-0.3l7.9 0.5l7.9 1.6l9.8 3.1l9.9 3.9l9.9 4.7l9.8 5.4l10.6 6.6l9.2 6.6l8.6 7l8.5 7.7l7.4 7.8l6.5 7.7l5.6 7.8l4.6 7.7l3.4 7.7l1.4 5.9l0.3 3.8l-0.3 3.9l-1.6 5.8l-2.9 5.8l-2.6 3.9l-7.3 7.7l-10.1 7.8l-14.1 7.7l-14.6 5.8l-20.8 5.9M499.4 977.7l-9.9-0.3M481.6 998.7l-21.7-2.8l-9.8-2.2l-9.9-3l-7.9-3.2l-5.9-3.2l-5.9-4l-5.9-5.2l-4.9-5.5l-3.8-5.8l-3.8-7.8l-2.8-7.7l-2.4-9.7l-1.2-7.7l-0.7-9.7l0.1-9.7l1.3-13.5l2.4-14.4l3.7-16.6l4.2-15.1l4.7-13.9l6.2-15.5l6.8-14.5l6-10.6l5.9-9l7.9-10l7.9-8.2l9.8-8.3l7.9-5.3l7.9-4l9.9-3.3l7.9-1.3l9.8 0.1l9.9 1.8l11.8 3.8l11.9 5l13.8 6.9l17.7 10.2l17.8 11.3l15.8 11.1l21.7 16.5l21.6 17.4l15.5 13.6l12.2 11.6l14.7 15.5l11.1 13.6l7.7 11.6l4.5 9.6l1.6 7.8l-0.2 5.8l-1.6 5.8l-2.9 5.8l-6 7.8l-6.2 5.8l-7.6 5.8l-9 5.8l-10.8 5.8l-8.4 3.9l-14.5 5.6l-11.9 3.9l-29 7.9l-33.1 6.7M500.1 999.3l-18.5-0.6M469.8 1012.2l-21.7-2.9l-9.9-2.1l-7.8-2.3l-6.3-2.4l-8.1-3.9l-6.4-3.8l-6.9-5.3l-4.8-4.4l-5-5.8l-3.9-5.8l-3.1-5.8l-2.9-7.5l-2-6.9l-1.9-8.9l-1.3-9.6l-0.7-9.7l-0.1-11.6l2.1-25.7l5.2-32.4l6.6-28.4l9.9-32.8l13.8-37.5l9.8-22.3l11.9-21.9l7.9-11.9l9.8-12.1l7.9-7.8l9.9-7.7l9.8-5.4l7.9-2.8l7.9-1.2l9.9 0.5l9.9 2.4l11.8 4.8l11.8 6l13.8 8.4l13.8 9.5l15.8 11.7l50.5 40.6M692.2 793.8l75.3 57.7l20.4 17.4l13.9 13.6l6.8 7.7l5.8 7.8l3.6 5.8l2.6 5.8l1.3 5.8l0 3.9l-0.7 3.8l-2.6 5.8l-4.1 5.9l-5.7 5.8l-7.3 5.8l-9 5.8l-10.8 5.8l-12.8 5.8l-26.8 9.7l-33.9 9.7l-51 11.6l-41.9 7.7l-39.7 5.6M502 1013.5l-16.4-0.3l-15.8-1M483.6 1023.9l-17.7-1.1l-17.8-2l-13.8-2.4l-11.8-3.1l-11.9-4.5l-9.8-5.1l-7.9-5.4l-8-7.5l-6-7.7l-5.8-10.4l-3.9-10.7l-2.8-11.8l-2-13.6l-1-15.5l0.2-15.5l1.5-19.3l4.1-32.8l5.9-33.4l7.9-36.2l9.9-38.9l13.8-46.9l9.8-30.5l15.8-43.8l5.9-14.6l7.9-17.6l13.8-26.7l11.9-19.1l9.8-12.2l6-5.4l3.9-2.6l4-1.8l3.9-0.8l3.9 0.1l6 1.7l3.9 2.1l5.9 4.3l10.9 10M578.6 598.7l42.7 49.5l14.8 15.5l25.4 25.2l16.2 15.5l15.2 13.5l41.3 33.2l17.7 13.5l17.8 12.5l57.2 36.4l27.6 15.9l62.1 33.1M981.1 898.4l9.8 7.3l3.9 3.9l2.5 3.9l0.9 3.8l-0.3 2l-1.8 3.8l-3.6 3.9l-8.4 5.8l-15.9 7.8l-20.2 7.7l-29.9 9.7l-35 9.7l-33.2 7.7l-54.9 11.6l-52.2 9.7l-33.6 5.8l-51.2 7.8l-45.5 5.8l-40.8 4.1M498 1024.2l-14.4-0.3M439.5 90.6l0.9-79.3M598.2 11.3l-0.2 149.1l1.5 102.6l1.4 42.6l2 36.7l2.6 33l3.4 31.2M622.2 479.1l7 23.9l7.8 21.3l9.2 21.3l10.9 21.3l11.3 19.4l13 19.3l13.3 17.5l16.5 19.3l16.6 17.4l18.2 17.1l21.7 18.5l21.7 16.9l23.7 16.8l19.7 12.7l25.7 14.7l24.2 12.4M951.1 796.4l19.8 6.2l21.7 6.1l19.7 4.8l21.7 4.6l21.7 3.9l21.7 3.3l51.3 6l57.2 4.4l69.1 3.4l80.9 2.3l105.1 1.4M1514.8 843.4l138.7 0.4M1653.5 968l-252.5 0.6l-159.8 1.7l-67.1 1.6l-55.2 2l-51.3 2.5l-44.1 3M950 986.1l-67.9 7.8l-159.3 20.2l-104.7 11.6l-43.7 3.9l-39.5 2.5l-31.6 1l-26.4-0.5M404.6 1019.8l-13.7-6.7l-9.9-7.2l-5.4-5.3l-4.4-5.6l-7.3-11.8l-2.7-5.9l-2.8-7.7l-3.2-13.6l-2.5-19.3l-0.8-19.4l0.9-21.3l2.5-27.1l3.5-27.1l4.7-29l13.6-72.9l30.6-146.4M420.1 520.8l3.8-29.4l3.6-34.8l3-38.7l2.3-38.8l3.3-87.1l2.5-127.6M406.5 97.9l0.9-86.6M694.9 11.3l-0.4 133.6l0.8 92.9l2.2 73.6l3.7 57.7M706.4 416.2l4.7 28.8l5.4 25.1l6.3 23.3l7.3 21.2l9.1 21.3l10 19.4l12 19.4l12.8 17.4l16.3 19.3l18.5 19.4l16.5 15.5l17 13.5l22.1 14.9l27.6 16.3l25.6 13.3l23.2 10.3M985.6 730.2l18.8 5.1l17.8 4.3l39.5 7.5l47.3 6.4l51.3 4.8l59.2 3.6l68 2.5l81.9 1.7l106.5 1.1M1523.3 767.4l130.2 0.4M1653.5 993.9l-258.4 0.4M1347.7 994.4l-161.8 1.4l-118.3 2.8l-45.4 1.8l-51.3 2.8l-53.3 3.7l-51.3 4.2M819 1015.4l-167.7 16.1l-63.1 5.4l-37.5 2.3l-29.6 1.3l-23.7 0.4l-21.7-0.5l-23.6-1.6l-19.8-2.5l-17.7-3.8l-14.8-4.8l-12.8-5.9l-6-3.5l-5.7-4.2l-4.5-3.8l-5.5-5.9l-6.8-9.3M344.1 950.3l-1.7-19.4l-0.2-21.3l1.6-27.1l3.6-34.9l7-50.3l24.2-151l6.9-48.4l4.5-36.4M394.8 514.3l4.3-61.6l3-73.6l2.1-92.9l1.8-140.8M386.4 92.5l0.8-81.2M803.1 11.3l-0.1 135.4M803.8 220.5l1.1 42.5l1.5 36.8l2.1 34.8l2.5 29l3.1 27.1l3.9 25.2l4.1 21.3l5.2 21.3l5.5 17.9l6.4 17l7.1 15.4l8.6 15.5l10.3 15.5l11 14.2l11.8 13.2l14.4 13.9M963.2 622.5l17.6 8.5l17.7 7.4l17.8 6.3l18 5.5l21.4 5.3l21.4 4.3l24 4l27.6 3.8l27.6 2.9l31.6 2.7l69.1 4l84.8 2.8l107.1 1.6M1522.7 682.2l130.8 0.5M1653.5 1009.8l-268.3 0.2l-165.7 0.8l-122.3 1.5l-89.4 2.4M934 1018.1l-97.2 6.2l-197.3 16.1l-67.7 4.7l-40.8 1.9l-31.6 0.6l-27.6-0.5l-24.8-1.7M376.6 1025.5l-11.4-8.4l-8.7-8.8l-6.7-9.7l-5.8-11.6l-4.6-13.5l-2.9-13.6l-2.1-17.4l-0.9-19.4l0.1-15.5l1-19.3l4.4-48.4l4.6-36.8l20.1-147.1l6.5-56.2M376.6 526.3l3.3-60.1l2.4-71.6l1.8-92.9l1.6-135.4M371.9 102.2l0.8-90.9M974.9 11.3l0.9 127.8l1.2 46.4l1.9 42.6l2.5 36.8l3.4 32.9l4.3 29.1l5.2 26.5M1019.2 422.7l10.1 16.4l11.9 15.5l13.3 13.6l14.3 11.6l16.5 10.6l17.8 9.2l21.7 8.8l21.7 7l25.6 6.5l27.7 5.4l31.3 4.8l31.8 3.6l39.4 3.3l41.5 2.6l49.1 2.1l54 1.5M1520.7 546.5l132.8 1.1M1653.5 1021.2l-280.1 0.2l-165.8 0.6l-118.3 1.3l-93.4 2.2M922.2 1028.5l-91.4 5.2l-197.2 14l-75 4.3l-39.5 1.4l-29.6 0.2l-29.6-1l-25-2.2M365.6 1027.5l-10.2-8.5l-7.9-8.7l-6.3-9.7l-5.4-11.6l-4.3-13.6l-2.7-13.5l-2-17.5l-1-19.3l0.1-15.5l0.8-19.4l3.7-46.4l4.4-40.7l16.9-141.3l5-48.4M362.6 539.8l3.1-60l2.3-73.6l1.7-94.8l1.5-135.4" fill="none" stroke="#000" stroke-width="2.0" stroke-linejoin="round"/>
<g font-size="29" letter-spacing="2.3"><text transform="translate(371.5 139.1) rotate(-89.5)" x="1.1" y="-0.2" text-anchor="middle">−0.4</text><text transform="translate(386.1 129.4) rotate(-89.5)" x="1.1" y="12.8" text-anchor="middle">−1.2</text><text transform="translate(406.3 121.6) rotate(-89.4)" x="1.1" y="12.8" text-anchor="middle">−2</text><text transform="translate(439.1 127.5) rotate(-89.3)" x="1.1" y="12.8" text-anchor="middle">−2.8</text><text transform="translate(803.4 183.6) rotate(89.4)" x="1.1" y="25.8" text-anchor="middle">−1.2</text><text transform="translate(1006.8 388.1) rotate(70.2)" x="1.1" y="16.8" text-anchor="middle">−0.4</text><text transform="translate(703.8 392.6) rotate(83.7)" x="1.1" y="18.8" text-anchor="middle">−2</text><text transform="translate(615.6 442.8) rotate(79.6)" x="1.1" y="18.8" text-anchor="middle">−2.8</text><text transform="translate(554.3 571.0) rotate(48.8)" x="1.1" y="14.8" text-anchor="middle">−3.6</text><text transform="translate(932.8 601.8) rotate(34.3)" x="1.1" y="12.8" text-anchor="middle">−1.2</text><text transform="translate(1483.8 545.9) rotate(1.0)" x="1.1" y="12.8" text-anchor="middle">−0.4</text><text transform="translate(1485.8 681.9) rotate(0.4)" x="1.1" y="12.8" text-anchor="middle">−1.2</text><text transform="translate(963.2 722.4) rotate(19.2)" x="1.1" y="12.8" text-anchor="middle">−2</text><text transform="translate(1499.6 767.3) rotate(0.3)" x="1.1" y="12.8" text-anchor="middle">−2</text><text transform="translate(916.9 782.6) rotate(21.9)" x="1.1" y="12.8" text-anchor="middle">−2.8</text><text transform="translate(663.5 770.6) rotate(38.8)" x="1.1" y="12.8" text-anchor="middle">−4.4</text><text transform="translate(1477.9 843.1) rotate(0.4)" x="1.1" y="12.8" text-anchor="middle">−2.8</text><text transform="translate(948.9 880.4) rotate(29.1)" x="1.1" y="12.8" text-anchor="middle">−3.6</text><text transform="translate(522.9 974.7) rotate(-7.4)" x="1.1" y="12.8" text-anchor="middle">−6</text><text transform="translate(536.8 995.6) rotate(-5.8)" x="1.1" y="12.8" text-anchor="middle">−5.2</text><text transform="translate(538.8 1010.8) rotate(-4.1)" x="1.1" y="12.8" text-anchor="middle">−4.4</text><text transform="translate(534.9 1022.2) rotate(-3.0)" x="1.1" y="12.8" text-anchor="middle">−3.6</text><text transform="translate(986.7 982.7) rotate(-5.2)" x="1.1" y="12.8" text-anchor="middle">−2.8</text><text transform="translate(1371.4 994.3) rotate(-0.2)" x="1.1" y="12.8" text-anchor="middle">−2</text><text transform="translate(842.7 1013.2) rotate(-5.2)" x="1.1" y="12.8" text-anchor="middle">−2</text><text transform="translate(970.9 1016.4) rotate(-2.6)" x="1.1" y="12.8" text-anchor="middle">−1.2</text><text transform="translate(959.1 1027.0) rotate(-2.3)" x="1.1" y="17.8" text-anchor="middle">−0.4</text><text transform="translate(440.8 1026.2) rotate(10.1)" x="1.1" y="12.8" text-anchor="middle">−2.8</text><text transform="translate(411.8 1035.4) rotate(15.7)" x="1.1" y="15.8" text-anchor="middle">−1.2</text><text transform="translate(400.3 1039.0) rotate(18.3)" x="1.1" y="22.8" text-anchor="middle">−0.4</text><text transform="translate(351.3 972.7) rotate(72.1)" x="1.1" y="12.8" text-anchor="middle">−2</text><text transform="translate(359.7 576.6) rotate(-85.4)" x="1.1" y="-0.2" text-anchor="middle">−0.4</text><text transform="translate(373.4 563.0) rotate(-85.0)" x="1.1" y="12.8" text-anchor="middle">−1.2</text><text transform="translate(392.4 537.9) rotate(-84.2)" x="1.1" y="12.8" text-anchor="middle">−2</text><text transform="translate(413.9 557.2) rotate(-80.3)" x="1.1" y="12.8" text-anchor="middle">−2.8</text></g>
<path d="M355.6 1093.5v-14.8M518.6 1093.5v-14.8M681.5 1093.5v-14.8M844.5 1093.5v-14.8M1007.5 1093.5v-14.8M1170.5 1093.5v-14.8M1333.4 1093.5v-14.8M1496.4 1093.5v-14.8M274.5 1029.5h19M274.5 901.3h19M274.5 773.2h19M274.5 645.0h19M274.5 516.9h19M274.5 388.7h19M274.5 260.5h19M274.5 132.4h19" stroke="#000" stroke-width="2.9" fill="none"/>
<rect x="274.5" y="11.3" width="1379.0" height="1082.2" fill="none" stroke="#000" stroke-width="2.8"/>
<g font-size="48"><text x="355.6" y="1148.2" text-anchor="middle">2</text><text x="518.6" y="1148.2" text-anchor="middle">3</text><text x="681.5" y="1148.2" text-anchor="middle">4</text><text x="844.5" y="1148.2" text-anchor="middle">5</text><text x="1007.5" y="1148.2" text-anchor="middle">6</text><text x="1170.5" y="1148.2" text-anchor="middle">7</text><text x="1333.4" y="1148.2" text-anchor="middle">8</text><text x="1496.4" y="1148.2" text-anchor="middle">9</text><text x="246.0" y="1043.5" text-anchor="end">2</text><text x="246.0" y="915.3" text-anchor="end">3</text><text x="246.0" y="787.2" text-anchor="end">4</text><text x="246.0" y="659.0" text-anchor="end">5</text><text x="246.0" y="530.9" text-anchor="end">6</text><text x="246.0" y="402.7" text-anchor="end">7</text><text x="246.0" y="274.5" text-anchor="end">8</text><text x="246.0" y="146.4" text-anchor="end">9</text></g>
<text transform="translate(802.4 1211.2)"><tspan x="-1" y="0" font-size="50" font-style="italic" textLength="38" lengthAdjust="spacingAndGlyphs">R</tspan><tspan x="39.8" y="7" font-size="35" textLength="128.8" lengthAdjust="spacing">H—SiH′</tspan><tspan x="171.8" y="11" font-size="68">/</tspan><tspan x="199.9" y="0" font-size="50" font-style="italic">a</tspan><tspan x="228.8" y="7" font-size="35">0</tspan></text>
<text transform="translate(164.0 658.8) rotate(-90)"><tspan x="-1" y="0" font-size="50" font-style="italic" textLength="38" lengthAdjust="spacingAndGlyphs">R</tspan><tspan x="40.8" y="7" font-size="35" textLength="98.1" lengthAdjust="spacing">Si—H′</tspan><tspan x="143.9" y="11" font-size="68">/</tspan><tspan x="171.4" y="0" font-size="50" font-style="italic">a</tspan><tspan x="201.1" y="7" font-size="35">0</tspan></text>
<text x="1563.0" y="72.3" font-size="48" textLength="60" lengthAdjust="spacing">(a)</text>
</g>
<g id="panel-b">
<path d="M2096 776.3l-3.9-0.9l-5.9-3l-6-4.4l-7.9-7.7l-7.8-9l-9.9-12.9l-7.9-11.4l-8-12.9l-5.8-11.2l-4-8.7l-3.9-10.9l-2-8l-0.9-7.7l0.4-5.8l1.1-3.9l1.4-2.2l1.9-1.9l2-1.1l4-0.8l5.9 0.9l7.9 3.6l7.9 5.7l7.9 7.4l9.8 11.5l7.9 10.9l7.9 12.6l7.9 15.3l5 11.7l3.8 11.6l2.4 11.6l0.3 7.8l-0.5 3.8l-1.1 3.9l-2 3.1l-1.9 1.7l-2 0.9l-4 0.4M2105.9 815.2l-3.9-1.2l-6-2.6l-9.8-6.4l-9.9-8.7l-11.8-13l-17.8-23.1l-17.8-25.4l-11.8-18.8l-10.6-19.4l-7.2-15.6l-5.7-15.3l-3.5-13.6l-1.4-11.6l0.1-5.8l0.6-5.4l2.6-8.2l2.3-3.8l3-3.5l5.9-4.1l6-2.2l5.9-0.8l5.9 0.2l5.9 1.1l6 1.8l7.9 3.7l6.1 3.8l7.7 5.6l7.9 7.1l6.4 6.6l7.4 8.5l7.9 10.1l13.8 20.4l6.7 11.3l6.2 11.7l10.8 24.2l8.6 24.2l2.6 9.6l1.5 7.8l0.9 7.7l0 7.8l-1.1 9.7l-2.1 7.7l-2.5 5.8l-3.9 5.9l-4 3.7l-3.9 2.1l-6 1l-5.9-0.6M2119.7 844.1l-5.9-1.4l-5.9-2.4l-5.9-3.1l-7.9-5l-7.9-6l-7.9-6.9l-13.8-14.5l-7.9-9.6l-11.9-15.7l-29.6-42.1l-15.8-25.3l-13.6-25.2l-8.6-19.3l-6-17.4l-3.7-17.5l-0.7-7.7l-0.1-7.7l0.8-7.8l1.4-5.8l2.3-5.8l2.2-3.9l2.9-3.8l3.8-3.9l5.2-3.9l4.2-2.4l7.9-3l7.9-1.4l7.9-0.1l7.9 1.1l7.9 2.3l7.9 3.4l7.9 4.5l9.9 7l9.2 8l8.5 8.4l8.1 9l9.7 12l9.9 13.5l8.7 13.2l8.1 13.6l7.2 13.5l5.6 12l5.9 14.5l12.7 35.5l2.7 9.6l2.2 9.7l1.2 9.7l0.2 7.7l-1 11.7l-2.8 13.5l-4.3 13.6l-4.6 9.6l-4.3 6l-2 1.9l-3.9 2.6l-5.9 1.7l-6-0.2M2137.5 890.4l-5.9-1.5l-7.9-3.6l-7.9-5l-9.9-7.5l-15.8-13.5l-13.8-12.8l-11.8-12.1l-9.9-11.2l-19.8-26l-31.6-44.4l-15.8-23.3l-11.8-18.5l-9.7-16.3l-8.5-15.5l-7.6-15.5l-5.7-13.5l-4.4-11.6l-7-23.3l-2-9.7l-1-7.7l-0.2-7.7l0.7-7.8l1.9-7.5l2.6-6l3.4-5.9l5.9-7.9l7-7.5l6.8-6.2l7.9-5.7l7.9-4.4l9.9-3.6l9.9-1.9l9.8-0.2l11.9 1.4l11.8 3.3l11.9 5l11.2 6.5l10.5 7.5l11.8 10.2l11.9 12l12.9 14.8l12.8 16.2l13.3 18.6l12.6 19.4l10.1 17.4l7.8 15.5l4.8 11.6l4.7 13l14.5 45.1l4 13.5l2 9.7l1.2 9.7l0.3 9.7l-0.5 9.7l-5.7 48.4l-2.6 11.6l-3.8 9.7l-3.1 5.8l-4.3 6.2l-4.9 5.4l-4.8 3.9l-4.2 2.3l-3.9 1.4l-4 0.6l-5.9-0.3M1912.4 567.9l4.5-8.7l7.2-9.7l10.4-11.6l11.5-11.2l9.8-8l7.9-5l7.9-3.9l8.7-2.9l9.1-1.7l9.9-0.5l9.9 0.9l11.8 2.6l11.9 4.1l9.8 4.6l9.9 5.7l9.9 6.9l11.8 9.7l11.9 11.3l11.8 12.9l13.8 16.6l13.5 17.9l12 17.4l12.1 19.2l10.1 17.6l7.7 15.5l6.4 15.5l18.7 60l3.3 11.6l2 9.7l1 7.7l0.5 9.7l-0.3 9.7l-2.4 27.1l-1.1 25.2l-0.8 9.6l-1.5 7.8l-1.8 5.8l-2.5 5.8l-3.2 5.8l-6.8 9.7l-8.3 9.7l-7.2 6.3l-5.9 3.3l-6 1.5l-7.9-0.3l-7.9-2.4l-9.8-5.2l-11.9-8.8l-13.8-12.4l-25.7-24.5l-15.8-16.8l-9.8-11.7l-9.9-12.9l-45.4-63.4l-16-23.1l-13.9-21.3l-10.7-17.4l-8.7-15.5l-8.7-17.4l-8.7-19.4l-9.4-23.2l-4.9-14.4M1912.4 536.3l26.9-25.5l6.9-5.8l7.7-5.7l7.9-4.8l7.9-3.7l7.9-2.6l9.8-1.9l9.9-0.5l9.9 0.9l9.9 1.9l11.8 3.6l11.9 5.1l11.8 6.3l11 7.2l10.7 8.1l12.8 11.2l12.9 13.1l13.8 15.6l12.7 15.9l11.3 15.5l11.7 17.4l13 21.3l10.9 19.3l5.8 11.6l5.1 11.7l4.3 11.6l3.7 11.6l16.6 58.1l2.6 13.5l0.9 13.6l-2.4 40.6l0.8 29.1l-0.2 7.7l-0.7 5.8l-1.3 5.8l-3.8 9.7l-6.9 11.6l-15 20.4l-7.9 9.8l-5.3 4.7l-2.6 1.5l-3.9 1.5l-5.9 0.5l-7.9-1.4l-7.9-3.1l-7.9-4.4l-7.9-5.5l-7.9-6.5l-9.9-9.1l-41.5-42l-11.8-13.2l-11.9-14.5l-13.8-18.4l-45.4-63.2l-29.5-42.9l-19.4-31l-22.2-41.3M1912.4 496.6l19.7-17.7l9.9-8.2l9.9-6.9l9.9-5.5l9.8-3.8l11.9-2.6l11.8-0.6l11.9 1.1l13.8 3l15.8 5.4l15.8 7.4l15.8 9.2l14.5 10.1l15.1 12.3l15.8 14.8l14.7 15.5l11.6 13.6l11.2 14.4l10.3 14.6l9.7 15.5l13.6 24.1l15.8 30.2l8.2 17.3l6.8 17.5l4.7 15.7l12 46.2l2.7 11.6l1.7 9.7l0.8 7.8l0.2 9.6l-1.8 31l0 11.6l1.1 11.6l3.4 21.3l0.6 9.7l-0.8 9.7l-2.4 9.7l-3.6 9.1l-8.5 18l-3.3 9.7l-1.7 9.6l-1 21.3l-1.4 5.8l-3.2 5.9l-4.6 4.7l-5.9 3.7l-6 2.4l-7.9 1.5l-5.9-0l-7.9-1.4l-7.9-3l-7.9-4.3l-9.9-6.7l-9.8-7.6l-9.9-8.6l-9.9-9.4l-15.8-16.9l-59.2-66.8l-11.9-14.8l-11.8-15.8l-71.1-97.1l-39.5-55.4M1912.4 478.2l19.7-17.4l9.9-7.9l9.9-6.6l9.9-5.1l11.8-4.2l11.9-2.1l11.8-0.4l13.8 1.5l15.8 4l15.8 5.9l15.8 7.8l17.7 10.6l15.9 11.4l15.8 13l15.8 14.9l15.9 16.9l11.7 13.8l11.9 15.5l9.9 14.5l9.8 16.3l11.9 22l19.9 39.8l7.9 17.4l6.6 17.5l5.2 17.4l10.1 40.6l3.1 13.6l1.7 9.7l0.9 9.7l0.2 9.6l-1.9 29.1l0.1 11.6l1.1 11.6l4.4 25.2l0.7 9.7l-0.4 7.7l-1.8 9.7l-8.9 27.1l-2.1 9.7l-0.5 5.8l0.2 5.8l2.9 19.3l0.4 7.8l-0.4 3.9l-1.1 3.8l-3 5.8l-5.4 5.8l-8.3 5.9l-9.9 4.8l-9.9 2.9l-9.8 1l-7.9-0.6l-7.9-2.1l-9.9-4.6l-9.9-6.2l-11.8-9.1l-11.9-10.4l-11.8-11.6l-15.8-17.4l-30.1-35.8l-33.1-37.9l-19.8-24.8l-36.4-49.6l-78.1-104.1M1912.4 459.4l17.8-15.2l11.8-9.1l11.9-7.3l11.8-5.3l11.9-3.5l13.8-1.8l11.8 0.3l13.9 2.1l15.8 4.5l15.8 6.6l17.7 9.4l17.8 11.2l17.6 13l16 13.4l15.8 15.1l15.8 17l12.1 14.5l11.6 15.5l10.4 15.5l10.3 17.4l12.1 23.3l21.2 44.5l8.5 19.3l5.8 15.5l5.7 19.4l8.9 36.4l3.6 15.9l2 11.6l0.9 9.7l0.3 9.6l-1.5 29.1l0.1 11.6l1.2 11.6l4.4 25.2l0.7 11.6l-1.4 13.5l-6.7 27.1l-1.5 11.7l0.1 5.8l1.1 7.7l6.6 23.2l1.4 7.8l0.1 5.8l-0.6 3.9l-1.1 3.8l-1.8 4.2l-5.4 7.5l-8.4 7.7l-17.8 12.8l-7.9 3.9l-7.9 1.4l-7.9-0.5l-9.9-2.4l-11.8-4.9l-7.9-4.4l-7.9-5.2l-9.9-7.4l-9.9-8.2l-17.7-16.7l-17.8-19.3l-38.5-47.8l-30.6-35.7l-13.8-16.8l-79.9-106.3l-40.6-52M1912.4 419.7l21.7-16l11.9-7.9l11.8-6.6l11.9-4.8l11.8-3l11.9-1.3l13.8 0.5l13.8 2.4l15.8 4.9l15.8 6.8l17.8 9.7l17.7 11.4l19.8 14.2l17.8 14.4l15.8 14.6l16.1 16.9l16.2 19.4l15.8 21.3l14 21.3l12.3 21.3l13.2 27.1l24.2 56.1l8.4 21.3l6.3 19.4l5 19.3l8.8 38.8l2.6 13.5l1.7 13.6l0.7 13.5l0.2 34.9l1.1 11.6l3.8 25.1l0.9 11.7l-0.8 15.4l-3.9 27.1l0.1 11.7l1.4 6.9l2.1 6.6l11.2 23.2l3.9 11.7l1 5.8l0.4 5.8l-0.7 19.3l1.2 5.8l1.1 2l2.1 1.9l5.3 2.5l22.7 5.3l26.7 7.3l19.7 3.9l35.6 3.7l16.7 2.5l9.2 1.9l13.3 3.9l3.8 1.9l0.8 2l-3.4 1.9l-8.8 1.9l-16.9 2l-44.4 3.1l-47.3 4.6l-27.7 1.1l-37.5-1.5l-29.6 0.8l-13.9-1l-11.8-2.2l-11-3l-10.2-3.9l-10.4-5.5l-9.9-7.3l-9.8-9.3l-37.6-39.2l-17.7-20.2l-11.9-15.2l-32.5-44.6l-44.5-53.6l-44.3-58.7l-23.9-30.9l-28.6-36l-19.7-23.6M3292.7 1058l-116.5 0.4l-177.7 1.5l-158-1.9l-100.7 2.5l-92.8 0.7l-108.6 2.8l-33.6 0.2l-79-0.7l-86.9 2.2l-21.7-0.4l-33.6-1.8l-33.5-0.2l-15.8-1.6l-15.8-3.1l-13.1-3.8l-9.6-3.9l-8.9-4.7l-7.9-5.6l-6.2-5.2l-7.7-7.7l-33.5-37.5l-11.9-14l-9.8-12.7l-29.5-42.3l-13-17.4l-42.4-51.4l-44.7-59l-32.4-41l-19.7-24.3l-15.8-18.3M1912.4 398.7l25.7-18l11.8-7.5l11.9-5.9l13.8-4.4l13.8-2l15.8 0.1l15.8 2.3l8.9 2.3l8.9 2.9l9.9 4l9.8 4.7l19.8 11.5l23.7 16.3l23.7 18.5l17.7 16l17.8 18.5l15.8 18.8l16.7 22.4l11.8 17.4l11 17.7l9.7 17.1l8.7 17.5l9.4 21.3l23 56.1l6.5 17.4l5.4 17.4l5 19.4l8.3 36.8l3 15.5l1.9 13.5l1.1 13.6l1.1 36.8l4.4 34.8l1.1 13.6l-0.1 13.5l-1.8 25.2l0.7 11.6l1.5 6.5l2.5 7l11.1 21.3l3.8 9.7l2 9.7l1.3 15.5l0.8 3.9l2.1 3.8l4 2.8l9.9 2.9l21.7 3.6l15.8 1.8l33.6 2.5l15.8 1.7l45.4 7.6l19.7 2.6l19.8 1.2l51.3 1.1l69.1 4.4l79 1.3l84.9 2.6l39.5 0.7l148.1-1.1l171.8 1.3l134.3 0.1M3292.7 1069.5l-288.3 0.8l-142.2-0.4l-118.5 1.9l-84.9 0.3l-146.1 1.2l-86.9-2.1l-82.9 0.4l-21.7-0.8l-33.6-1.9l-29.6-0.2l-21.8-1.9l-21.9-4.3l-9.6-2.7l-8.8-3.1l-8.6-3.9l-6.8-3.8l-5.7-3.9l-7.2-5.8l-6.4-6.2l-7.9-8.6l-27.6-32.7l-11.9-15l-11.8-16.7l-24.6-37l-14.3-19.3l-40.1-48.8l-40.9-53.8l-26.3-33.3l-25.6-31.3l-17.8-20.5M1912.4 376.3l24-16.5l11.5-7.1l11.9-5.5l13.8-4.1l7.9-1.4l7.9-0.7l7.9-0.2l9.9 0.5l17.8 2.7l15.8 4.4l17.7 7.5l19.8 11.2l23.7 16.3l23.7 18.5l17.7 15.6l17.6 17.8l16 18.7l15.8 20.7l15.6 22.5l13.6 21.3l11.3 19.4l10.1 19.3l8 17.5l8 19.3l20.3 52.4l8 23.1l5 17.4l5.4 23.3l7.1 32.9l3.3 19.4l1.8 17.4l2.2 38.7l5 42.6l1.2 34.8l1.3 11.6l1.9 7.8l2.3 5.8l11.4 21.3l3.3 7.7l2 7.8l2 14.6l1.3 4.7l2.6 3.6l3.9 2.3l6 1.6l7.9 1.2l37.5 2.8l17.8 1.9l51.3 8.6l21.8 2.5l19.7 1.1l53.3 0.7l67.2 3.2l75 1.3l100.7 2.5l57.3 0.8l256.7 1.2l169.8-0.1M3292.7 1081.3l-393 0.6l-53.3 0.4l-104.6 1.9l-231.1 0.7l-27.6-0.8l-55.3-2.5l-71.1-0.7l-55.3-2.9l-37.5-0.4l-15.8-1.4l-13.8-1.8l-13.9-2.5l-13.8-3.2l-9.8-2.8l-9.5-3.4l-8.7-3.8l-7.5-4.2l-8.4-5.5l-7.2-5.8l-6.1-5.8l-7.1-7.8l-14.7-18.1l-15.8-21.6l-11.8-17.9l-25.5-41.1l-16.5-23.3l-39-48.1l-37.1-48.6l-18.4-23.3l-29.4-35.4l-21.7-24.5M1912.4 325.6l21.7-11.9l11.9-5.5l13.8-4.6l13.8-2.5l17.8-1l19.7 1.1l19.8 3.3l17.8 5.1l15.8 6.6l17.7 9.9l19.8 13.4l21.7 16.8l19.7 16.8l16.4 15.7l15.2 16.6l15.8 19.7l13.9 18.9l15.1 22.2l14.8 23.3l13.9 23.2l10.7 19.4l8.7 17.4l7.8 17.4l6.9 17.4l26 73.6l6.2 21.3l5.6 23.2l7 32.9l4.3 23.3l2.8 19.3l4.6 42.6l3.3 25.2l3.2 19.4l3.2 13.5l3.4 9.7l4.5 8.7l4.5 6.8l11.9 15.5l4.6 7.7l2.5 5.8l3.2 11.6l1.5 3.9l1.4 2.1l4 3l5.9 2l29.6 5.6l35.6 10l15.8 3.7l17.7 2.8l21.8 1.6l49.3 1.2l71.1 3l199.4 3.9l201.5 1.8l254.7 0.1M3292.7 1085.8l-377.2 0.4l-59.2 0.4l-114.5 1.8l-233 0.4l-27.7-0.7l-59.2-2.6l-69.1-1l-45.5-2.3l-37.5-0.3l-15.8-1.4l-17.8-2.4l-15.8-2.8l-15.7-3.5l-11.9-3.4l-9.9-3.6l-9.5-4.2l-7.1-3.9l-8.9-5.8l-6.1-4.8l-7.2-6.8l-7.1-7.8l-13.3-16.8l-13.8-19.8l-11.9-18.7l-24.8-41.4l-9-13.6l-8.4-11.6l-38.7-48.2l-34.2-44.7l-18.4-23.3l-28.4-34l-23.7-26.5M1912.4 298.7l21.7-10l11.9-4.5l13.8-3.4l13.8-1.5l19.8 0.1l21.7 2.3l19.7 4l17.8 5.5l15.8 6.8l17.8 9.8l17.7 11.9l22.3 16.8l19.2 16.1l17.8 16.6l14.7 15.7l14.9 18.2l13.8 18.6l14.7 21.3l14 21.3l14.3 23.2l13.3 23.3l10.3 19.3l8.5 17.5l7.4 17.4l9.5 25.2l18.5 54.2l7.1 23.2l5.5 21.3l6.9 31l6.4 32.9l4.7 29l8.5 60l2.5 12.9l2.7 10.4l3.6 9.6l5.2 9.7l5.4 7.8l15.7 19.3l4.9 7.9l7.1 15.4l2.8 3.5l3.3 2.3l6.5 2.4l23.7 6.4l27.7 9.5l13.8 3.9l9.9 2l11.8 1.8l25.7 2l104.7 4.2l187.6 3.9l215.2 2.1l256.7 0M3292.7 1089.3l-355.4 0.3l-75.1 0.5l-120.4 1.6l-235 0.3l-86.9-3.1l-61.2-0.9l-43.5-1.7l-25.6 0.3l-13.9-0.4l-17.7-1.6l-19-2.7l-20.5-3.8l-17.7-4l-11.9-3.4l-9.9-3.6l-9.9-4.3l-7.7-4.1l-8.9-5.9l-7.1-5.6l-6.4-6l-7.1-7.7l-10.2-13.2l-11.8-17.5l-11.9-19.3l-26.1-44.9l-8.7-13.5l-9.6-13.6l-36.5-45.8l-34.5-45.2l-18.5-23.2l-28-33.3l-23.7-26.2M1912.4 270.9l19.7-7.5l11.9-3.6l13.8-2.3l13.8-0.5l21.8 1.6l25.6 4l21.8 5.2l17.7 6l15.8 7.1l17.8 10l19.7 13.3l21.8 16.3l19.7 16.4l16.4 15.1l14.7 15.5l14.3 17.3l13.1 17.6l16.2 23.2l15.4 23.2l13.2 21.3l12.4 21.3l11.5 21.3l9.6 19.4l8.6 19.3l9.6 25.2l13.7 40.7l10.5 32.9l7.5 27.1l5.5 23.2l5.9 29l9.9 54.2l8.7 52.3l2.4 11.6l2.8 9.7l4.9 11.6l5.9 9.7l22 27l11.8 19.5l4 3.7l3.8 2.1l6.1 2.4l45.4 15l13.9 3.8l11.8 2.5l13.8 1.9l15.8 1.4l74.3 4l166.6 4.1l134.3 1.8l173.8 1.2l209.3-0.1M2269.8 1093.5l-27.6-4.7l-31.6-6.2l-17.8-4.2l-13.8-4.1l-15.3-6l-11.5-5.8l-11.6-7.7l-9-7.8l-10.1-11.6l-11.6-16.9l-13.9-23.6l-28.7-52.4l-8.5-13.6l-9.3-13.5l-83.8-108.1l-27.6-32.7l-25.7-27.8M2362.8 1093.5l-24.1 0M1912.4 211.5l19.7-2.9l13.9-1.1l13.8 0.5l15.8 2.1l27.6 6l31.6 8.4l19.8 6.6l19.7 8.4l19.8 10.5l19.7 12.4l23.7 16.6l23.7 18.4l17.8 15.3l14.7 14.2l14.2 15.4l14.1 17.5l15.9 21.3l19.2 27.1l12.7 18.8l10.1 16l10 17.4l11.3 21.3l10.3 21.3l9.5 21.3l9.9 25.2l10.6 31l14.4 46.4l9.8 34.9l9 38.7l10.8 58.1l12.7 62.2l2.6 11.3l2.9 9.7l4.9 11.6l7.3 11.7l18.9 23.2l12.7 18.5l4 3.9l3.9 2.5l10.2 4.1l27.4 8.3l17.7 4.8l17.8 3.7l17.8 2.6l18.6 1.9l50.5 3.3l165.9 4l96.7 1.4l221.2 1.6l193.5-0.2M2249.6 1093.5l-52.8-11l-13.9-3.7l-13.8-4.5l-13.8-5.9l-9.9-5.3l-9.3-6.4l-8.7-7.7l-9.9-11.6l-11.5-17.5l-11.9-21.1l-27.9-52.4l-9.4-15.5l-10.6-15.5l-63.8-83.3l-16.7-21.1l-27.6-32.5l-25.7-27.6M1912.4 179.7l21.7-1.4l13.8 0l13.9 1.3l15.8 3l27.6 7.9l33.6 11.3l21.7 8.7l19.7 9.6l21.8 12.3l21.7 14.1l23.7 17l23.8 18.8l17.7 15.5l15.8 15.5l15.7 17.4l15.8 19.8l35.6 48.7l11.8 17.4l9.9 15.8l10.5 18.4l11.1 21.3l10.2 21.3l9.4 21.2l10.5 27.2l11.3 32.9l12.7 40.6l11.4 40.7l8.8 36.8l10.7 58.2l12.5 59.9l3.2 13.5l2.9 9.7l4.9 11.6l6.9 11.6l18 23.2l12.2 17.5l2.6 2.7l4.3 3.1l9.6 4.2l19.7 6.1l19.8 5.3l19.7 4.1l17.8 2.8l21.7 2.5l23.7 1.9l27.6 1.6l162 3.8l88.8 1.3l227.1 1.6l187.6-0.2M2234.1 1093.5l-44.3-9.7l-14.8-4.1l-13.8-4.8l-10.7-4.6l-10.5-5.8l-8.4-6l-7.9-7.3l-9.9-12l-9.9-15.2l-11.8-21.5l-27-52.3l-10.3-17.4l-10.4-15.5l-60.3-79.3l-18.3-23.3l-27.7-32.5l-25.7-27.4M1912.4 142.9l27.6 0.9l13.9 1.1l13.8 2.4l15.8 4.3l21.7 8.2l33.6 14.8l25.7 12.6l23.6 13.2l23.7 14.9l25.7 17.7l25.7 19.5l21.7 18.1l17.8 16.4l16.1 16.6l15.5 17.9l17.7 22.7l33.9 46.5l11.6 17.2l9.8 16l10.8 19.1l11 21.3l11.1 23.2l10.2 23.3l12 31l11.9 34.8l10.7 34.8l12.9 46.5l7.9 32.9l9.9 54.2l12.5 60l2.8 11.7l2.8 9.6l5.8 13.6l6.9 11.6l26.7 36.7l4 3.9l3.9 2.7l9.9 4.1l17.8 5.2l25.6 6.6l19.8 4.1l17.7 2.8l19.8 2.3l21.7 1.7l25.7 1.4l53.3 1.4l185.6 2.8l235 1.4l179.7-0.1M2205.8 1093.5l-18.9-4.2l-15.8-4.1l-13.8-4.4l-9.9-3.8l-9.9-4.8l-7.9-5.1l-5.9-4.8l-7.4-7.5l-9-11.6l-9.3-15l-9.9-18.7l-27.1-55.4l-9.9-17.4l-11.3-17.4l-50.6-67.8l-22.6-29l-26.6-31.2l-27.6-29.4M1912.4 53.2l7.9 3.4l9.9 3.4l33.5 8.2l11.9 3.5l13.8 5.4l11.9 6.1l11.8 7.2l15.8 10.9l98.7 72.6l23.7 18.1l21.8 17.9l21.7 19.5l19.7 19.1l17.8 18.6l15 17.2l14.6 18.2l17.8 23.9l34.3 48.9l11.1 17.4l11.4 19.3l14.7 27.1l15.6 31l12.9 27.1l11.9 27.1l10.8 27.1l8.5 25.2l23.4 87.1l5.2 23.2l9.8 54.3l12.2 56.1l4.2 15.5l5.8 13.5l7.6 12.4l21.8 28.3l3.9 4.1l4.8 3.6l7.1 3.4l11.8 3.6l37.5 9.2l23.7 5l17.8 3l17.8 2.2l19.7 1.8l21.7 1.2l43.5 1.1l159.9 1.5l256.7 1.1l165.9-0M2191.5 1093.5l-30.3-7.7l-9.9-3.2l-9.8-4l-7.9-4.2l-7.9-5.4l-6-5.1l-6.7-7.2l-9.1-12l-9-15.1l-8.7-16.8l-19.4-41.3l-8.7-17.4l-9.9-17.4l-11.3-17.4l-12.5-17.5l-33.4-44.5l-25.3-32.6l-26.6-31.3l-26.7-28.1M1930.5 11.3l11.5 4.6l25.7 8.4l13.8 5.3l13.8 6.8l13.9 8.5l11.8 8.6l11.9 9.3l58.6 49.2l65.8 53.4l19.7 17.3l17.8 16.9l21.7 22.1l19.7 21.1l14.3 16.3l14.3 17.4l13.2 17.4l17.5 24.6l32 47.1l10.9 17.4l11.3 19.4l17.7 32.9l23.8 46.4l15.2 31l10.5 23.2l7.7 19.4l6.3 19.4l13.1 52.2l9.9 36.8l4.7 21.3l5.7 34.9l3 15.4l12.6 52.3l3.8 13.6l5.5 13.5l7.7 13l21.2 27.7l4.5 4.8l3.9 3.1l6.9 3.7l11.5 3.9l36.9 9.5l21.7 4.9l17.8 3.2l17.8 2.3l17.8 1.7l21.7 1.3l39.5 0.9l136.2 0.8l438.4 1M2177.2 1093.5l-23.9-6.3l-9.9-3.5l-7.9-3.6l-7.9-4.8l-5.9-4.6l-5.9-5.5l-5.9-6.6l-8.5-11.6l-9.3-15.6l-7.9-15.6l-18.5-40.4l-9.5-19.4l-10.8-19.3l-11.2-17.4l-12.4-17.5l-28.8-38.7l-27.3-35.3l-25.7-30.1l-13.8-15l-13.8-14.1M2021.5 11.3l15.3 12.3l26.5 22.5l92 79.8l25.7 23.7l21.7 22.3l45.4 51.2l15.6 18.6l12.2 15.5l11.7 15.7l13.3 19.1l43.6 65.8l20.4 34.9l58.4 108.4l10.9 21.3l8.7 19.4l7.1 19.3l5.5 19.4l9.8 42.1l12.9 48.9l3 15.4l5 31l3.2 15.5l5.5 20.9l8.4 27.5l6.8 17.4l7.5 13.6l20.3 29l4.9 5.8l4.5 3.9l6.9 4l11.8 4.4l29.6 8.7l19.8 5l15.8 3.2l17.8 2.6l17.7 1.9l19.8 1.2l39.5 1l110.5 0.6l456.2 0.8M2146.3 1093.5l-12.7-5.1l-9.9-6.2l-5.9-4.8l-6-5.8l-9.8-11.9l-9.5-14.6l-8.3-15.5l-7.9-17l-17.1-39.1l-9.3-19.4l-9.7-17.4l-9.8-15.5l-12.1-17.4l-19.9-27.1l-32.7-42.8l-25.7-30.2l-13.8-14.9l-13.8-14.1M2142.1 11.3l17.1 15.8l43.9 42.3l15.5 15.5l12.7 13.5l19.6 23.2l28.8 36.8l29.6 36.8l11.7 15.5l13.4 19.4l28.2 44.5l32.4 48.4l11.8 21.3l19 40.9l9.9 19.2l10.5 17.3l23.5 34.9l9.2 15.5l11.5 23.2l12.4 30.4l10.5 29.6l8.3 29l13.5 56.2l4.5 21.3l2.9 21.3l2.7 36.8l1.4 13.5l2.7 15.5l3.6 13.6l3.5 9.6l3.4 7.8l8.7 15.5l7.8 11.6l7.2 9.7l5.3 5.8l4.9 4.1l9.3 5.5l12.4 4.9l17.8 5.2l21.7 5.1l19.7 3.6l19.8 2.5l21.7 1.9l23.7 1.4l53.3 1.8l57.3 0.8l132.3-0.2l175.7 0.9l134.3-0.2M2133.6 1093.5l-9.9-6.2l-10.7-9.3l-10.1-11.6l-9.4-13.6l-7.3-12.8l-6-12l-22.7-52.6l-10.1-21.3l-12-21.3l-15.4-23.2l-33.9-46.5l-24.2-31l-23.8-27.7l-25.7-26.7M2209 11.3l46.3 42.6l22.7 23.2l17.5 20.1l35.5 43l13.9 17.3l11.8 16l65.1 97.2l11.9 19.1l11.9 21.6l26.7 54.2l30.2 54.2l8.2 17.4l6.9 17.4l31.6 91l10 32.9l10.1 40.7l6 29l3 23.3l0.9 21.3l-1.4 34.8l0.1 11.6l1 11.6l2.5 11.7l2.4 6.8l2.9 6.7l6.8 11.6l10 13l4.3 4.4l5.6 4.9l7.9 5.1l11.9 4.9l15.8 4.3l23.7 4.9l29.6 5.2l25.8 3.7l27.5 2.7l31.6 2.1l37.5 1.5l43.4 0.6l110.6-0.1l165.9 1.2l148.1-0.7M2124.6 1093.5l-8.8-7.5l-9.9-10.5l-9.7-13l-8.1-12.9l-5.9-11.1l-5.9-12.6l-18.7-44.7l-9.7-21.3l-12.6-23.2l-13.6-21.3l-33.5-46.5l-25.5-32.9l-24.6-28.7l-25.7-26.7M2284.1 11.3l12.1 11.6l11.1 11.6l23.3 27.1l31.2 40.7l12.7 17.7l12.8 19.1l58.7 94.8l15.4 25.7l36.4 67.3l27.3 48.4l12.5 25.1l7.2 17.5l6.3 17.4l29.8 92.9l9.6 32.9l12 46.5l4.6 19.3l3.5 17.5l2.3 15.4l1.3 13.6l0.4 11.6l-0.3 11.6l-3.3 38.7l0 7.8l0.7 7.7l2.4 9.7l4.4 9.7l6.8 9.4l8.3 8l9.4 6.5l11.9 5.5l13.8 4.3l23.7 5.6l31.6 6.8l24.2 4.2l27.1 3.4l29.7 2.3l27.6 1.3l31.6 0.8l112.6 0.3l136.2 1.7l71.1-0.1l108.6-1.3" fill="none" stroke="#bababa" stroke-width="1.9" stroke-linejoin="round"/>
<path d="M2129.6 869.3l-5.9-1.7l-7.9-3.6l-7.9-4.8l-7.9-5.6l-9.9-7.8l-9.9-8.6l-9.8-9.6l-7.9-8.5l-17.8-22.3l-31.6-44.3l-17.8-26.6l-13.8-22.9l-11.8-22l-9.5-21.2l-6.7-19.3l-4.1-17.4l-1.7-15.5l0.1-7.8l0.7-5.8l1.3-5.8l2.2-5.8l3-5.8l4.2-5.8l5.4-5.8l7.2-5.8l7.7-4.7l7.9-3.2l7.9-1.8l7.9-0.7l7.9 0.4l9.9 1.8l7.9 2.6l9.9 4.4l7.9 4.6l8.8 6.3l9 7.4l8.4 8l9.3 10l9.9 11.6l11.8 15.3l11.9 17l10 15.8l8.7 15.5l5.7 11.6l5.7 13.6l15.3 43.8l4.5 14.3l2.4 9.7l1.7 9.6l0.7 7.8l-0.1 9.7l-0.8 9.6l-4.4 25.6M2145.3 866.6l-3.8 1.9l-4 1l-3.9 0.3l-4-0.5M1912.4 515.5l24.4-22.1l13.1-10.3l7.9-5.1l5.9-3l7.2-2.9l6.7-2l7.9-1.4l7.9-0.5l7.9 0.3l9.8 1.4l7.9 1.8l9.9 3.2l9.9 3.9l9.9 4.8l9.8 5.6l9.9 6.4l9.9 7.2l9.8 8.2l9.9 9l10.1 10.1l20.6 23.3l16.7 21.8l16.2 24.6l21.1 36.8l8 15.5l5.3 11.5M2217.5 734.2l5.3 20.5l1.6 9.7l0.6 7.7l0.1 11.6l-1.9 34.9l0.5 11.6l2.6 25.2l-0.5 11.6l-1.7 7.7l-3.7 9.4l-16.9 29.4l-3.6 7.7l-7.1 17.9l-2 3.7l-2.7 3.6l-3.2 2.8l-3.9 2l-4 1l-5.9-0.1l-5.9-1.3l-6-2.2l-13.8-7.6l-13.8-9.9l-11.9-10.4l-11.8-11.8l-30.1-32.1M2030 820.6l-56.3-77.5l-21.9-31l-19.8-29l-19.6-31.3M1912.4 439.9l17.8-14.3l11.8-8.5l11.9-7l9.8-4.6l11.9-3.9l11.8-2.2l11.9-0.4l11.8 1.1l13.9 3.1l13.8 4.7l13.8 6.2l15.8 8.6l15.8 9.9l17.8 12.6l15.8 12.7l15.9 14.4M2030.4 848.3l-44.1-58.7l-30.5-39.7l-23.7-30.3l-19.7-24.2M2181.6 528.3l9.1 13.5l8.3 13.5l7.6 13.7l7.9 15.8l29.7 65.4l6.8 17.4l5.1 15.5l4.6 17.4l8.7 36.8l4.3 23.2l1.2 17.4l-0.9 29.1l0.3 11.6l1.3 11.6l4.1 25.2l0.6 14M2278.6 941.8l7.3 18.1l2.1 7.8l0.7 5.8l0 5.8l-0.7 5.8l-5.3 19.3l-1.6 7.8l0 9.7l1.9 7.7l2.6 3.8l2 1.4l2 0.6l3.9 0.5l11.9-0.1l7.9 0.9l2.7 0.7l3.8 1.9l0.4 1.9l-3.6 2l-9.3 0.9l-7.9-0.3l-11.8-1.6l-4-0.1l-23.7 4.7l-7.9 0.9l-9.8-0l-9.9-1.1l-7.9-1.7l-9.9-3.3l-9-4.2l-6.4-3.9l-12.2-9.3l-27.7-24.8l-21.7-20.8l-17.8-19.4l-13.8-17l-28.2-37.2M1912.4 351.7l23.9-15.2l7.7-4.2l7.9-3.7l7.9-2.9l9.9-2.6l7.9-1.4l9.8-0.9l11.9-0.1l11.8 0.8l11.9 1.7l9.9 2.1l9.8 2.8l9.9 3.7l9.9 4.5l10.8 5.8M2132.8 385.8l14.6 13.2l13.8 13.9l12.9 14.6l12.8 16l13.8 18.9l15.8 23.3l14.6 23.1l13 22.5l8.6 16.3l7.4 15.4l6.6 15.5l7.5 19.4l22.6 61.9l5.8 19.4l5.9 23.9M3292.7 1076l-414.7 0.5l-134.3 2.2l-225.1 1.1l-27.6-0.5l-65.2-2.6l-80.9-0.4l-51.4-2.8l-31.6-0.2l-19.7-1.6l-13.9-2l-13.8-2.9l-9.8-2.5l-11.2-3.7l-9-3.9l-7.5-4l-8.6-5.7l-7.2-5.8l-7.9-7.7l-7.9-8.9l-17.8-21.8l-11.8-15.3l-13.8-19.9l-28.5-44.1M2027.7 865.7l-64-82.7l-29.6-36.1l-21.7-24.8M2321.9 775.7l4.2 48.7l6.8 56.1l2.1 12.2l2.5 9.1l3.3 7.8l4.1 7.4l8.8 13.9l3.8 7.7l2.4 7.8l2.6 15.5l2.1 4.1l4 2.7l3.9 1.2l7.9 1.1l23.7 1.8l11.8 1.7l13.9 2.6l34.9 8l20.4 3.3l25.6 2l56 0.9M2640.4 994.4l211.9 3.9l124.5 1.1l128.9 0.5M3179.5 999.9l113.2-0.1M3292.7 1092.2l-339.6 0.2l-132 1.1M1912.4 241.5l19.7-5.3l15.8-2.5l7.9-0.4l9.9 0.3l19.8 2.2l35.5 6.8l25.7 7l11.8 4.2l9.9 4.1l11.8 5.7l10.7 5.9M2151 312.1l15.1 12.8l12.9 12.1l12.6 13.1l11.6 13.5l13.5 17.5l18 25.1l18.4 27.1l13.4 21.3l11.2 19.3l10.5 19.5l10.6 21.2l8.8 19.4l7.2 17.4l6.4 17.5l17 52.2M2465.9 1093.5l-44-1.7l-88.9-1.6l-35.5 1.1l-17.8-0.7l-25.7-3.1l-32.3-5.6l-24.9-5.6l-19.2-6l-14.4-6.3l-13.8-8.1l-11.2-8.9l-10.6-11.1l-9.8-13.2l-11.9-18.4l-33.2-58.4M2029.9 885.9l-16.8-21.2l-32.2-42.2l-18.6-23.3l-26.2-30.9l-23.7-25.9M2357.7 692.3l6 29.5l20.4 108.4l2.2 9.7l2.9 9.7l4 9.6l5.6 9.7l5.7 7.8l17.4 20.6l11.8 18.1l4 3.9l3 1.9l4.9 2.2l39.5 13.2l13.8 4l13.8 2.9l15.8 2.4l44.1 3.6M2646.3 952.8l192.2 4.2l138.3 1.5l126.9 0.7M3177.6 959.2l115.1-0.2M1912.4 99.7l13.8 3l29.6 4.5l15.8 3.7l17.8 6.3l19.8 9.5l19.7 11.2l31.6 19.1l25.7 16.2l23.7 15.8l21.7 15.2l17.8 13.2l17.7 14l18.3 15.5M2219.7 279.7l12.6 13.8l11.9 14l13.7 17.4l15.9 21.4l30 42.5l11.2 17.4l10.2 17.5l10.5 19.3l11.7 23.2l11 23.3l9.3 21.3l9.3 23.2l7.9 21.3l7.1 21.3l6.5 21.7M2220 1093.5l-35.1-7.8l-13.8-3.9l-11.9-4l-9.8-4l-9.9-5l-7.9-5.2l-6-4.9l-5.9-5.9l-5.9-7l-5.9-8.4l-5.9-9.5l-9.9-18l-21-42.2l-10.2-19.3M2035 908.6l-52.1-68.7l-18.3-23.2l-26.5-31l-25.7-27.3M2411.1 644l10 39.1l11.1 60l12.6 60l4.2 15.5l4.6 11.6l6.3 11.6l5.4 8l19.9 26.9l5.8 5.9l3.9 2.6l4 1.9l9.9 3.3l21.7 5.8l25.6 6.1l21.8 4.3l21.7 3.1l25.7 2.5M2672.7 914.5l187.5 2.7l268.6 1.4M3176.2 918.7l116.5-0.2M2075 11.3l28.9 22.9l21.8 18.5l37.5 34.4l27.6 26.7l14.7 15.6l14.9 17.1l58.4 71.9l16.2 21.3l13.5 19.4l54.9 85.2l15.7 27.1l25 47.7l13.1 23.4M2161.8 1093.5l-16.4-4.8l-11.8-5.1l-6-3.5l-5.9-4.4l-9.9-9.4l-9.8-12.4l-9.9-15.8l-9.9-19.4l-12.1-27M2036.2 926.2l-9.9-14.7l-14.1-19.3l-27.4-36.8l-18.1-23.3l-26.7-31.4l-13.8-14.9l-13.8-14.1M2455.3 505.7l7.5 14.8l6.8 15.4l6.3 17.5l4.7 15.5l11.8 50.3l12.6 48.4l3 15.5l5.1 34.8l3.1 15.5l4.6 17.4l5.7 17.5l5.5 13.5l5.8 11.6l7 11.6l12.8 19.4l5.6 7.7l4.8 5.1l3.9 3.2l6.7 3.8M2649.3 864.7l17.4 2.6l19.8 1.9l23.7 1.3l29.6 0.8l100.7 1l142.2-0.1l121 0.5M3177.6 872.9l115.1 0M2366.3 11.3l14.6 19.4l17.6 25.1l20.4 31l15.6 25.2l19.9 34.8l70.1 128.6M2561.2 339.5l6.5 12.5l6.3 13.6l11.4 29l25.2 77.5l13.3 44.5l11.9 46.4l8.6 40.7l7.8 44.5l1.8 15.5l0.9 13.5M2117.6 1093.5l-7.7-8.1l-7.9-9.5l-7.9-11l-6-9.5l-5.9-10.9l-5.9-12.3l-14.3-34.5M2029.8 931.4l-10.3-16l-13.6-19.4l-21.3-29l-17.9-23.2l-12.8-15.7l-13.9-15.9l-13.8-14.9l-13.8-13.9M2659.4 750.1l5.5 8.5l7.8 8l9.9 7.5l13.9 7.7l13.9 5.8l19.5 6.2l19.8 4.7l21.7 3.7l35.5 3.6l45.4 2.1l251.4 3.7M3177.6 811.4l115.1-1.9" fill="none" stroke="#000" stroke-width="2.0" stroke-linejoin="round"/>
<g font-size="29" letter-spacing="2.3"><text transform="translate(2202.5 263.3) rotate(43.7)" x="1.1" y="12.8" text-anchor="middle">−2</text><text transform="translate(2120.9 290.8) rotate(35.3)" x="1.1" y="12.8" text-anchor="middle">−2.8</text><text transform="translate(2103.1 364.0) rotate(36.3)" x="1.1" y="12.8" text-anchor="middle">−3.6</text><text transform="translate(2542.9 307.5) rotate(60.2)" x="1.1" y="12.8" text-anchor="middle">−0.4</text><text transform="translate(2436.3 474.1) rotate(58.9)" x="1.1" y="12.8" text-anchor="middle">−1.2</text><text transform="translate(2157.6 500.3) rotate(49.5)" x="1.1" y="12.8" text-anchor="middle">−4.4</text><text transform="translate(2404.8 621.1) rotate(74.6)" x="1.1" y="12.8" text-anchor="middle">−2</text><text transform="translate(2348.0 656.7) rotate(74.7)" x="1.1" y="12.8" text-anchor="middle">−2.8</text><text transform="translate(2206.8 698.9) rotate(73.0)" x="1.1" y="12.8" text-anchor="middle">−5.2</text><text transform="translate(2315.2 739.4) rotate(79.5)" x="1.1" y="12.8" text-anchor="middle">−3.6</text><text transform="translate(2657.1 713.7) rotate(86.5)" x="1.1" y="12.8" text-anchor="middle">−0.4</text><text transform="translate(2155.3 845.7) rotate(-64.5)" x="1.1" y="12.8" text-anchor="middle">−6</text><text transform="translate(2053.9 848.7) rotate(49.6)" x="1.1" y="12.8" text-anchor="middle">−5.2</text><text transform="translate(2054.1 876.7) rotate(50.1)" x="1.1" y="12.8" text-anchor="middle">−4.4</text><text transform="translate(2050.6 894.6) rotate(51.6)" x="1.1" y="12.8" text-anchor="middle">−3.6</text><text transform="translate(2051.3 915.9) rotate(54.5)" x="1.1" y="12.8" text-anchor="middle">−2.8</text><text transform="translate(2048.0 928.5) rotate(56.9)" x="1.1" y="12.8" text-anchor="middle">−2</text><text transform="translate(2053.1 958.9) rotate(62.6)" x="1.1" y="13.8" text-anchor="middle">−1.2</text><text transform="translate(2045.9 964.5) rotate(64.2)" x="1.1" y="22.8" text-anchor="middle">−0.4</text><text transform="translate(2279.4 905.6) rotate(91.3)" x="1.1" y="12.8" text-anchor="middle">−4.4</text><text transform="translate(2614.0 854.4) rotate(16.2)" x="1.1" y="12.8" text-anchor="middle">−1.2</text><text transform="translate(2649.0 913.3) rotate(2.8)" x="1.1" y="12.8" text-anchor="middle">−2</text><text transform="translate(2609.5 951.1) rotate(2.5)" x="1.1" y="12.8" text-anchor="middle">−2.8</text><text transform="translate(2603.5 992.9) rotate(2.4)" x="1.1" y="12.8" text-anchor="middle">−3.6</text><text transform="translate(3140.6 811.5) rotate(-0.1)" x="1.1" y="12.8" text-anchor="middle">−0.4</text><text transform="translate(3140.6 872.8) rotate(0.1)" x="1.1" y="12.8" text-anchor="middle">−1.2</text><text transform="translate(3152.5 918.6) rotate(0.1)" x="1.1" y="12.8" text-anchor="middle">−2</text><text transform="translate(3140.6 959.2) rotate(0.0)" x="1.1" y="12.8" text-anchor="middle">−2.8</text><text transform="translate(3142.6 999.9) rotate(0.0)" x="1.1" y="12.8" text-anchor="middle">−3.6</text></g>
<path d="M2066.8 1093.5v-14.8M2220.9 1093.5v-14.8M2375.1 1093.5v-14.8M2529.2 1093.5v-14.8M2683.4 1093.5v-14.8M2837.5 1093.5v-14.8M2991.6 1093.5v-14.8M3145.8 1093.5v-14.8M1912.4 972.3h19M1912.4 851.5h19M1912.4 730.7h19M1912.4 609.9h19M1912.4 489.1h19M1912.4 368.3h19M1912.4 247.5h19M1912.4 126.7h19" stroke="#000" stroke-width="2.9" fill="none"/>
<rect x="1912.4" y="11.3" width="1380.3" height="1082.2" fill="none" stroke="#000" stroke-width="2.8"/>
<g font-size="48"><text x="1912.7" y="1148.2" text-anchor="middle">1</text><text x="2066.8" y="1148.2" text-anchor="middle">2</text><text x="2220.9" y="1148.2" text-anchor="middle">3</text><text x="2375.1" y="1148.2" text-anchor="middle">4</text><text x="2529.2" y="1148.2" text-anchor="middle">5</text><text x="2683.4" y="1148.2" text-anchor="middle">6</text><text x="2837.5" y="1148.2" text-anchor="middle">7</text><text x="2991.6" y="1148.2" text-anchor="middle">8</text><text x="3145.8" y="1148.2" text-anchor="middle">9</text><text x="1883.9" y="1107.1" text-anchor="end">1</text><text x="1883.9" y="986.3" text-anchor="end">2</text><text x="1883.9" y="865.5" text-anchor="end">3</text><text x="1883.9" y="744.7" text-anchor="end">4</text><text x="1883.9" y="623.9" text-anchor="end">5</text><text x="1883.9" y="503.1" text-anchor="end">6</text><text x="1883.9" y="382.3" text-anchor="end">7</text><text x="1883.9" y="261.5" text-anchor="end">8</text><text x="1883.9" y="140.7" text-anchor="end">9</text></g>
<text transform="translate(2509.7 1211.4)"><tspan x="-1" y="0" font-size="50" font-style="italic" textLength="38" lengthAdjust="spacingAndGlyphs">R</tspan><tspan x="40.9" y="7" font-size="35" textLength="126.1" lengthAdjust="spacing">Si—HH′</tspan><tspan x="172.8" y="11" font-size="68">/</tspan><tspan x="200.3" y="0" font-size="50" font-style="italic">a</tspan><tspan x="229.3" y="7" font-size="35">0</tspan></text>
<text transform="translate(1786.8 657.2) rotate(-90)"><tspan x="-1" y="0" font-size="50" font-style="italic" textLength="38" lengthAdjust="spacingAndGlyphs">R</tspan><tspan x="41.0" y="7" font-size="35" textLength="94.5" lengthAdjust="spacing">H—H′</tspan><tspan x="140.6" y="11" font-size="68">/</tspan><tspan x="167.3" y="0" font-size="50" font-style="italic">a</tspan><tspan x="197.0" y="7" font-size="35">0</tspan></text>
<text x="3202.2" y="72.3" font-size="48" textLength="60" lengthAdjust="spacing">(b)</text>
</g>
<g id="panel-c">
<path d="M475.7 2205.9l-2.4-2.1l-0.3-1.9l0.8-2.2l1.9-1.7l2-0.7l3.9 0.2l2 1.2l0.9 1.2l0.3 2l-1.2 2.4l-1.9 1.4l-2 0.6l-4-0.4M465.9 2233.2l-8.6-2.3l-7.5-3.9l-5.6-5l-4.1-6.6l-2.1-7.7l-0.2-3.9l0.6-5.8l2.4-7.8l2.1-3.8l3.2-4.4l7.8-7.2l8-4.9l7.9-3.1l9.9-1.9l9.8 0.3l7.9 1.9l8.3 3.8l8.4 5.8l5 5l3.5 4.7l1.9 3.8l1.4 5.9l0.1 3.8l-1.2 5.8l-2.7 5.8l-2.8 3.9l-5.8 5.8l-5.3 3.9l-6.8 3.7l-5.4 2.1l-7.5 1.9l-6.9 1l-7.8 0.1l-7.9-0.7M467.8 2244.5l-13.2-2l-10.4-3.5l-4.3-2.3l-3.6-2.6l-3.3-3.2l-2.6-3.5l-4-8.1l-1.5-5.8l-0.7-5.8l0.3-9.7l1-5.8l1.8-5.8l5-10.4l4-5.7l3.9-4.7l9.9-8.8l9.8-6.2l9.9-4.1l5.9-1.6l5.9-0.8l6-0.2l5.9 0.5l9.8 2.6l9.9 4.5l11.8 7.5l10.1 8l9.4 9.7l5.2 7.7l2.3 5.8l0.6 3.9l0 3.9l-1.8 7.7l-4.2 7.8l-6.8 7.7l-9.7 7.8l-11 6.1l-11.8 4.7l-11.8 3.1l-13.9 1.7l-13.8-0.1M461.9 2258.1l-13.8-1.9l-11.8-3.3l-9.9-5l-4.7-3.5l-3.2-3l-3.8-4.7l-2.3-3.9l-3.7-9.7l-2-11.6l-0.2-11.6l2.1-13.5l4-13l7.2-16.1l8.6-14.6l7.9-10.8l9.8-10.7l11.9-9.9l11.8-7.3l5.9-2.7l5.9-2l6-1.3l5.9-0.3l5.9 0.5l5.9 1.5l5.9 2.3l7.9 3.9l11.9 7.2l11.8 8.2l36.2 28.3l11.2 9.7l7.9 7.7l6.8 7.8l3.8 5.8l2.4 5.8l0.5 5.8l-1.4 5.8l-4.2 7.7l-4.8 5.8l-8.3 7.8l-10.6 7.7l-9.7 5.8l-11.8 5.8l-14.5 5.8l-17.8 5.8l-14.9 3.9l-12.2 2.4l-13.8 1.7l-13.8 0.5l-11.9-0.6M1653.5 2204.6l-130.2 0.7l-191.4 1.6l-51.3-0.2l-47.6-1l-96.9-3.8l-39.5-2l-27.4-1.9l-19.4-2.2l-10.6-1.7l-8.1-1.9l-5.1-2l-2.5-1.9l-0.2-1.9l2.2-2l4.6-1.9l7.6-1.9l11.3-2l17.4-1.9l82.1-5l80.8-5.5l45.4-2.1l31.6-0.6l35.5 0l165.7 2.9l146 1.1M522.5 1280.6l1.4 112.3l3.8 131.6l0 29l-0.8 25.2l-2.6 34.8l-6.5 58.1l-4.7 50.3l-2.3 19.3l-2.5 13.6l-3 10.4l-2 4.4l-1.9 3l-2 1.7l-2 0.6l-1.9-0.6l-2-1.8l-2-3.1l-2-4.6l-3.7-13.9l-2.2-13l-2-16.7l-1.9-23.2l-6-90.3l-1.1-36.8l-0.3-38.7l2.1-147.1l0.8-104.5M465.9 2263.8l-18.2-1.9l-7.5-1.6l-7.3-2.3l-6.5-2.9l-5-2.9l-5.2-3.9l-4-3.9l-3.5-4.4l-3.1-5.2l-2.4-5.8l-1.7-5.9l-1.4-7.7l-0.5-7.7l0.1-7.8l0.7-7.7l1.5-7.8l2-7.7l6.7-18.4l9.9-20.9l11.8-20.2l11.9-15.7l23.6-26.5l15.8-15l5.9-4.5l4-2l3.9-1.1l4 0.4l3.9 1.5l4 2.6l7.9 6.7l31.2 29.9l18.4 15.5l29.6 23.2l15.5 11.5l50.1 33l4.4 3.9l2.6 3.8l0.3 2l-0.3 1.9l-2.5 3.9l-6.7 5.8l-8.5 5.8l-16 9.7l-24.7 13.5l-15.7 7.8l-13.9 5.8l-16.3 5.8l-18.7 5.8l-14.4 3.9l-17.2 3.8l-13 2.2l-11.9 1.4l-11.8 0.5l-11.8-0.2M1653.5 2225.5l-394.6 1.4l-114.4-1.6l-88.8-3.1l-99-4.9l-48.9-3.1l-33.7-2.7l-74.8-7.6l-21.8-4l-20-5.8l-8.9-3.9l-3-1.9l-1.7-1.9l-0.3-2l0.9-1.9l2.2-1.9l3.3-2l9.3-3.8l16.3-4.8l15.8-2.9l11.8-1.1l27.6-1.1l17.8-1.4l31.6-3.5l61.1-8.4l25.7-3l33.5-3l45.4-2.7l171.6-8.5l63.1-1.8l59.2 0.2l175.6 3.1l138.1 0.9M561.8 1280.6l1 108.4l4 137.4l0.2 46.4l-0.7 25.2l-1.5 25.2l-10.8 133.5l-3 31l-3.3 25.1l-4.2 23.3l-9.9 44.5l-5.2 27.1l-2.2 15.5l-1.6 23.2l-1.5 10.5l-4 12.8l-5.9 12.3l-5.9 8.4l-4 3.1l-1.9 0.6l-2 0l-3.9-2l-4-4.5l-3.9-6.4l-4-8l-3.7-9.4l-2.2-7.1l-1.9-8.4l-9-54.2l-4.3-32.9l-4.5-46.6l-5.2-65.6l-2.4-36.8l-1.5-34.8l-2-87.1l-0.1-50.4l1.4-141.2l0.5-118.1M1653.5 2237.4l-374.8 1.3l-71.1-0.3l-63.1-0.8l-146-4.4l-98.6-1.1l-31.6-0.8l-66.8-4.3l-63.4-6.3l-17.7-0.9l-17.8-0.2l-19.7 1.1l-9.9 1.4l-11.8 2.5l-17.8 4.9l-53.3 16.9l-27.2 7.7l-33.9 8.2l-17.8 3.4l-11.8 1.7l-13.8 1.1l-13.8 0.3l-13.8-0.7l-11.9-1.5l-9.8-2.1l-8-2.6l-8.1-3.9l-7.6-5.2l-5.9-5.6l-5-6.6l-3-5.8l-2.6-7.8l-1.9-9.7l-0.7-9.6l0.4-11.6l1.3-9.7l2.2-9.7l3.4-11.3l9.8-25.9l9.9-21.8l22.4-43.6l7-15.5l2.6-7.7l2-7.7l1.2-7.8l0.5-9.7l-0.3-13.5l-1.1-13.6l-8.1-50.3l-4-34.8l-1.4-17.4l-1.1-23.3l-1.4-77.4l-4.3-81.3l-1.3-34.8l-1-48.4l-0.3-58.1l1.2-172.2l0.4-120M590.7 1280.6l1.3 120l4.1 147.1l0.1 31l-0.7 30.9l-2 40.7l-7.8 118l-2.9 87.1l-1.4 27.1l-4.5 42.6l-2.4 29l-8.1 48.4l-2.1 23.2l-0.3 9.7l1.1 9.7l2.1 7.7l3.3 7.8l4.4 7.7l6.8 9.7l6.5 7.7l7.9 8.1l9.8 8.5l9.9 7.1l11.8 7.1l11.9 5.9l11.8 4.9l9.9 3.3l9.8 2.4l9.9 1.4l11.8 0.6l43.4-2.1l59.2-6.1l35.5-1.8l55.3-3.6l35.5-1.2l108.5-2.1l149.9-6.1l53.3-1.7l39.4-0.5l39.5 0.1l187.4 3.2l153.9 0.9M1653.5 2252.4l-376.8 1.1l-102.6-0.3l-57.2-0.8l-114.4-2.6l-104.6 0.8l-29.6-0.2l-55.2-2.1l-69.1-3.8l-21.7-0.5l-21.7 0.2l-25.6 1.3l-25.7 3.1l-29.6 5.1l-58.4 12l-31.1 5.8l-28.8 4l-25.7 1.3l-23.6-1l-17.8-2.7l-7.9-2.3l-7.9-3.1l-7.3-3.9l-5.6-3.9l-4.8-4.1l-5.1-5.6l-4-5.8l-2.9-5.8l-2.6-7.7l-1.6-7.8l-1.1-9.6l-0.3-9.7l0.5-9.7l1.2-9.7l4.1-19.3l7.8-26.2l16.5-49.3l6.3-23.2l3.7-19.4l1.6-19.3l0.1-17.4l-0.5-15.5l-5-56.2l-2.5-42.5l-0.3-23.3l1-54.2l0-27l-3.3-89.1l-1.1-44.5l-0.3-81.3l1.4-296.1M639.7 1280.6l1.1 125.8l4.1 176.1l-0.1 50.3l-1.5 100.7l0.1 29l1.6 31l6.3 60l1.6 27.1l-0.3 17.4l-2.3 36.8l-0 40.6l0.9 9.7l1.7 9.7l2.4 8.2l3.9 9.8l4.6 9.1l5.3 8.4l5.7 7l6.4 5.9l7.6 5l7.9 4.1l11.4 4.4l12.3 3.8l11.8 2.9l9.9 1.8l11.8 1.3l11.8 0.7l53.3 0.1l47.3-1.8l21.7-0.2l33.6 1.2l76.9 4.9l41.5 1.3l226.8-1.2l224.9 3.2l161.8 0.9M1653.5 2258.1l-380.8 1.1l-94.6-0.2l-59.2-0.7l-116.4-2.5l-102.6 1.1l-31.6-0.1l-47.3-1.5l-75-3.5l-43.4-0.2l-27.6 1.3l-25.7 2.6l-31.5 4.6l-63 11.4l-27.8 4.5l-27.6 3.3l-23.7 1l-13.8-0.3l-11.8-0.8l-11.9-1.6l-7.8-1.6l-8.4-2.5l-7.4-3.1l-7.9-4.4l-5.8-4.1l-6.1-5.6l-3.9-4.7l-3.9-6.1l-3.2-6.9l-2.3-7.7l-1.5-7.8l-0.9-9.6l-0.3-9.7l0.5-9.7l1-9.7l4.2-21.2l6.4-24.2l13.4-45.5l6.1-25.2l3.5-21.3l1.5-21.3l0.2-17.4l-0.5-15.5l-4.5-60.2l-1.8-36.5l-0.1-25.1l1.2-52.4l0.1-27l-3.2-94.9l-0.8-42.6l-0.2-75.4l1.3-298.1M663.1 1280.6l1.1 133.5l3.9 172.3l0.9 139.3l0.8 29.1l1.5 23.2l3.3 29l10 65.8l2 21.3l1.9 36.8l1.9 13.5l3.5 17.5l1.9 7.7l2.6 7.8l2.6 5.8l3.3 5.8l4.1 5.8l5 5.8l10.8 9.7l6 4.3l7.9 4.8l13.8 6.2l13.8 4.1l19.8 3.6l21.7 2.6l16.8 1.4l48.3 1.6l25.6 1.5l84.8 7.9l37.5 2.6l29.6 1.2l37.5 0.6l177.6 0.7l218.9 3l169.7 0.9M1653.5 2263.2l-430.1 1l-86.8-0.5l-134.1-2.6l-124.3 1.3l-39.5-0.8l-92.7-3.6l-41.4-0.2l-27.6 1.1l-27.7 2.5l-29.6 3.8l-63.9 10.2l-28.8 4.1l-27.6 3l-23.7 0.9l-25.6-1l-10.6-1.2l-10.3-1.9l-8.7-2.5l-7.9-3.1l-7.8-4.1l-6-4.1l-5.9-5.2l-4-4.3l-4.1-5.8l-4-7.7l-2.6-7.7l-1.7-7.8l-1.2-9.7l-0.5-11.6l0.9-17.4l3.4-20.8l5.9-25.8l13-50.2l5.2-25.1l3-21.3l1.3-21.3l-0.3-32.9l-4.5-70.2l-1.1-32.4l1.6-96.7l-3.1-102.6l-0.8-69.7l1.3-338.7M686.9 1280.6l1.1 135.5l3.7 158.7l1.8 125.8l1.5 44.5l2.6 32.9l3.9 27.1l5.5 27.1l17.3 70l6 21l5.8 13.9l9 15.1l10.4 13.5l10.2 9.8l6 4.3l7.8 4.8l15.8 7.7l17.8 6.7l19.7 5.3l25.7 4.6l90.7 13.8l35.5 4.4l33.6 3l41.4 2.1l59.2 1.2l157.8 1.4l203.2 2.9l173.6 0.9M1653.5 2271.8l-459.7 0.9l-65.1-0.4l-132.1-2.1l-118.4 1.4l-37.5-0.6l-88.8-2.8l-41.4-0.1l-29.6 0.9l-29.6 2.1l-33.5 3.4l-100.6 12.3l-21.7 1.8l-21.7 0.5l-13.9-0.3l-13.8-0.9l-11.8-1.4l-9.9-2l-9.8-2.9l-7.9-3.1l-7.9-4.1l-7.1-4.8l-6.2-5.8l-4.8-5.8l-3.6-5.8l-4-8.6l-2.2-6.9l-1.9-9.7l-1-9.7l-0.5-11.6l0.8-17.4l2.7-19.3l15-75.5l4.3-25.2l2.9-25.1l1.1-23.3l-0.1-32.9l-3.5-67.7l-0.8-31l1.7-92.9l-0.3-27.1l-2.3-77.4l-0.6-50.3l1.2-360M737.4 1280.6l1.1 129.7l3.9 166.4l1.7 129.7l1.6 40.6l2.9 29.1l4 21.3l5.9 21.2l7.3 19.4l9.5 19.4l11.8 19.3l14.4 19.4l7.6 9l7.9 8.3l13.8 12.3l15.9 11l21.6 11.9l24.9 11.3l25.8 9.7l24.3 7.3l25.6 5.9l25.7 4.3l27.6 3.1l37.5 2.3l51.3 1.3l165.7 1.3l211.1 3l165.7 0.9M1653.5 2275.5l-463.6 0.9l-63.1-0.4l-128.3-1.9l-120.3 1.4l-35.5-0.5l-88.8-2.4l-39.5-0.1l-33.5 0.9l-33.5 2.2l-31.6 2.9l-98.6 11.1l-21.7 1.6l-21.7 0.6l-15.8-0.4l-13.8-1l-11.7-1.4l-9.6-2l-8.3-2.3l-9.9-3.7l-7.9-3.9l-7.9-5.3l-5.9-5.5l-5.2-6.4l-4.7-7.7l-3.3-7.8l-2.4-7.7l-1.8-9.7l-1-9.7l-0.4-11.6l0.7-17.4l2.2-17.4l13.4-73.6l4.7-30.9l2.4-23.2l1.1-25.2l-0.1-32.9l-3-67.7l-0.6-29.1l1.6-92.9l-0.3-29l-2-73.6l-0.5-50.3l1.1-361.9M764.9 1280.6l1.1 127.7l4.6 168.4l1.7 129.7l1.4 34.8l2.8 27.1l3.7 19.4l5.7 19.3l7.5 18.3l9.8 18.7l11.3 17.2l12.4 15.6l13.8 14.3l17.1 14.6l16.4 11.8l19.2 11.5l20.3 9.8l23.7 9.4l23.6 7.5l21.7 5.4l23.7 4.2l25.7 3.1l33.5 2.1l45.4 1.2l163.7 1.3l215.1 3.5l163.7 0.9M1653.5 2278.9l-465.6 0.8l-63.1-0.3l-126.3-1.7l-120.3 1.3l-122.3-2.6l-39.5-0l-37.5 1l-33.5 2.1l-33.5 2.9l-96.7 10l-21.7 1.5l-19.7 0.4l-15.8-0.4l-13.8-0.9l-11.9-1.4l-9.8-1.9l-9.9-2.7l-10.4-3.9l-7.9-3.8l-7.3-4.9l-6-5.3l-5.9-7.2l-4.7-7.8l-3.4-7.7l-2.5-7.8l-1.9-9.6l-1.3-11.7l-0.4-11.6l0.6-15.5l1.8-16.3l12.9-76.6l4-29l2.4-25.1l1.2-29.1l-0.1-29l-2.7-69.1l-0.5-27.7l1.6-92.9l-2.2-102.6l-0.4-48.3l1-363.9M794.8 1280.6l0.5 81.3l1.1 65.8l6.8 240l2.4 54.2l1.6 19.3l1.9 15.5l3.7 19.4l5.1 17.4l7 16.9l7.9 14.6l9.9 14.4l11.8 14.3l15.2 15.3l16 13.5l18.1 13.1l17.8 10.9l17.7 9.2l19.8 8.4l20.6 6.8l20.8 5.2l21.7 3.8l23.7 2.8l45.3 2.8l69.1 1.9l303.8 5.3l189.4 1.3M1653.5 2284.9l-469.5 0.8l-185.5-1.7l-120.3 1.1l-118.4-1.9l-37.5-0.1l-39.4 0.9l-35.5 1.8l-37.5 2.8l-96.7 8.9l-21.7 1.3l-19.7 0.2l-15.8-0.4l-13.8-0.9l-11.8-1.4l-11.9-2.3l-10.9-3.1l-10.8-4.1l-7.9-4l-7.9-5.4l-6.1-5.9l-5.7-7.3l-4.8-8.1l-3.3-7.8l-2.5-7.7l-1.9-9.7l-1.3-11.6l-0.5-11.6l0.4-15.5l1.6-17.4l11.3-75.5l3.7-31l2.2-27.1l1.1-30.9l-0-29.1l-2.5-92.9l1.4-94.8l-1.8-98.7l-0.4-46.5l1-367.7M863.7 1280.6l1.4 145.2l1.2 52.6l1.8 48l2.3 40.6l2.9 34.9l3.5 29l4.3 27.1l6.2 29l7 25.2l8.9 25.2l9.5 21.2l10.9 19.4l10.9 15.5l6.4 7.7l7.3 7.8l14.8 13l8.6 6.3l8.9 5.8l18 9.9l21.7 9.4l23.7 8.1l27.6 7.6l31.6 6.8l33.5 5.7l36.5 4.8l34.5 3.4l37.5 2.6l43.4 2.3l51.3 1.7l128.3 2.4l185.4 1.2M1653.5 2287.7l-471.5 0.7l-183.5-1.6l-120.3 1.1l-116.4-1.8l-37.5 0l-39.5 0.9l-35.5 1.6l-41.4 3l-94.7 8.2l-21.7 1.2l-19.7 0.3l-15.8-0.4l-15.8-1.1l-11.8-1.5l-11.9-2.4l-11-3.1l-10.7-4.1l-7.8-4l-7.9-5.3l-6.4-5.9l-5.5-7l-5.1-8.5l-3.4-7.8l-2.6-7.7l-2.1-9.7l-1.3-11.6l-0.6-13.5l0.3-15.5l1.3-15.5l10.9-77.4l3.5-31l2.3-29l1-31l-0.1-29l-2.2-91l1.4-94.8l-1.7-96.8l-0.3-46.4l0.9-369.7M908.2 1280.6l1.3 143.2l2.4 85.2l1.8 31.6l2.4 28.4l3.3 27.1l4.1 25.1l6 27.7l7.9 28.5l9.5 27.1l10 23.2l10.1 18.9l10.6 15.9l6.2 7.8l6.8 7.4l13.3 11.9l7.9 5.8l8.4 5.4l17.8 9.4l20.5 8.4l23.4 7.8l31 8.3l33.3 7.2l33.8 5.9l37.5 5.1l31.6 3.2l33.5 2.5l37.5 2l41.4 1.5l108.5 1.9l183.5 1M1653.5 2290.2l-475.4 0.8l-173.7-1.5l-132.1 1l-108.5-1.5l-37.5 0l-41.5 0.8l-37.4 1.8l-37.5 2.5l-98.7 8.1l-19.7 1l-19.7 0.2l-15.8-0.4l-15.8-1l-11.8-1.4l-11.9-2.3l-11.8-3.2l-11.1-4.2l-8.6-4.3l-7.9-5.4l-6.3-5.8l-6.2-7.7l-5.3-9l-3.6-8.5l-2.5-7.7l-2-9.7l-1.3-11.6l-0.6-13.5l0.3-15.5l1.5-17.4l9.9-73.6l3.6-32.9l2.1-29l1.1-32.9l-0.1-29l-1.9-83.3l1.3-104.5l-1.9-135.5l0.9-373.5M965.7 1280.6l1.6 125.8l1.1 44.5l1.5 36.8l2.1 32.9l2.5 27.1l3.2 25.1l4.2 25.2l5.5 25.2l7.2 25.5l8 22.9l9.2 21.2l9.5 17.5l10.6 15.4l11.9 13.6l11.9 10.5l13.8 9.5l16.9 9l18.7 7.9l22.9 7.6l26.4 7.1l30.1 6.5l33 5.6l31.6 4.3l31.5 3.2l31.6 2.5l35.5 2l41.4 1.6l100.7 2.1l163.7 1.2" fill="none" stroke="#bababa" stroke-width="1.9" stroke-linejoin="round"/>
<path d="M467.8 2252.2l-9.8-0.9l-7.9-1.5l-7.9-2.2l-5.9-2.4l-4.7-2.7l-5.2-4.2l-3.9-4.6l-2.9-4.7l-2.4-5.9l-2-7.7l-0.8-7.7l0.1-7.8l1-7.7l2-7.8l3-8.1l3.9-8.1l4.2-7l5.7-8l5.9-6.8l5.9-5.5l6-4.7l7.8-5.1l7.9-4l7.9-2.7l7.9-1.6l5.9-0.3l6 0.4l5.9 1.2l5.9 2l7.9 3.6l14.9 8.8M579.8 2190.9l0.1 5.2l-1.4 5.8l-2.7 5.8l-4 5.8l-5.4 5.8l-6.7 5.8l-8.3 5.8l-6.6 3.9l-7.9 3.8l-9.5 3.9l-11.7 3.9l-10.4 2.7l-9.8 1.8l-9.9 1.1l-17.8 0.2M422.7 1371.4l0.2-90.8M615.7 1280.6l1.1 118.1l3.8 139.3l0.6 46.5l-1.1 54.2l-4.3 100.6l-0.8 32.2M426.9 1843.7l-0.1-54.1l-3.9-92.9l-1.2-56.1l-0.3-73.6l0.9-121.8M618 1845.3l0.9 23.7l-0.3 19.3l-8.5 92.9l-0.5 11.6l0.2 11.6l2.3 23.3l2.7 13.5l3 7.8l3 5.8l4 5.8l4.8 5.7l6.2 5.9l7.3 5.8l6.2 4.2l7.9 4.3l7.9 3.5l7.9 2.6l7.9 2l9.9 1.7l33.5 2.5l23.7 0.4l99.2-5.3M921 2092.2l63.7 2.3l35.5 0.6l43.4-0.6l132.2-3.5l57.2-0.8l67.1 0.3l120.9 2.2M1514.8 2093.7l138.7 0.8M1653.5 2245.7l-384.7 1.2l-130.8-0.9M1064.2 2244.2l-73.6-1.7l-90.7 0.3l-31.6-0.3l-61.1-2.9l-67.1-4.6l-21.7-0.7l-21.7 0.2l-21.7 1.6l-25.7 3.9l-25.6 5.4l-74.2 17.7M476.5 2273l-20.5-0.7l-17.8-2.6l-13.1-4l-10.5-5.3l-5.9-4.1l-4.6-4.1l-3.6-3.9l-3.7-5.2l-2.5-4.5l-2.3-5.8l-1.6-5.8l-1.4-7.7l-0.9-11.6l0.3-11.6l1.5-11.7l3-13.1l3.9-13.4l5.9-17.2l19.3-49.2l5.5-15.4l5.8-19.4l2.9-15.5l1.2-17.4l-0.5-23.2l-1.4-15.5l-4.5-36.8l-2.7-30.9M394.7 1371.4l0.1-90.8M711.9 1280.6l1.1 131.6l2.6 117.9M396.1 1847.6l0.9-34.8l0.1-27.1l-2.7-90.9l-0.8-58.1l0.8-191.5M717.1 1603.9l1.8 110.2l1.3 31l1.8 23.2l3.1 23.3l4.7 23.2l6.3 23l7.9 22.7l9.4 22l10.4 19.7l9.9 15.2l5.8 7.2l6 6.4l8.1 7.6l9.6 8.1l9.9 7.3l9.8 6.6l9 5.1l8.8 4.4l21.9 8.9M933.8 1998.2l31.2 5.6l29.6 4l29.6 2.8l33.5 1.8l63.1 1.4l157.9 1.5l166.3 2.4M1518.8 2018.4l134.7 0.6M1653.5 2267.7l-416.3 1l-118.9-0.7M1044.5 2266.5l-59.8-0.6l-110.5 1.3l-37.4-0.7l-90.8-3.2l-25.6-0.2l-27.7 0.5l-27.6 1.6l-31.5 3.1l-88.8 12.2l-28.3 3.4M442.8 2284.7l-14.4-2.4l-13.8-4l-11.9-5.6l-9.9-7l-7.8-8.3l-5.9-9.3l-4.4-11.4l-2.6-13.6l-0.8-9.6l-0.2-11.6l0.6-11.7l1.4-11.7l6-31l14.7-65.6l3.6-21.3l2.2-19.4l1-21.3l-0.1-25.1l-4-73.5M376.5 1369.1l0.1-88.5M826.4 1280.6l1.5 140.8M377.3 1837.5l0.6-53.7l-1.9-87.1l-0.4-52.2l0.8-227.9M829 1468.8l4.1 107.9l2.1 40.7l2.3 32.9l2.4 27.1l3.1 25.1l3.8 23.2l4.2 19.4l5.1 17.4l5.9 15.5l7.7 15.5l8.2 13.5l9.8 13.6l11.7 13.5l12.3 12l13.8 11.3M966.2 1881.7l14.6 6.5l15.8 6.1l15.7 5l17.1 4.5l18.4 3.8l17.8 2.9l21.7 2.8l23.7 2.5l55.2 3.9l69.1 3l122.3 3.3l118.3 2M1523.3 1928.5l130.2 0.7M1653.5 2282l-465.6 0.8l-195.2-1.8M945.2 2281.5l-72.9 0.6l-118.4-2.2l-53.3 0.3l-35.5 1.4l-35.5 2.4l-104.6 10.1l-29.5 2.1l-19.8 0.5l-19.7-0.4l-17.8-1.4l-12.7-2M382.3 2274.6l-5.2-5.1l-5.8-7.6l-4.4-7.8l-3.3-7.7l-2.4-7.8l-1.8-9.6l-1-9.7l-0.5-11.6l0.2-13.6l1.4-15.5l14.1-90.9l2.9-25.2l1.9-23.2l0.9-25.2l0.1-23.2l-2.6-77.4l-0.4-28.5" fill="none" stroke="#000" stroke-width="2.0" stroke-linejoin="round"/>
<g font-size="29" letter-spacing="2.3"><text transform="translate(376.5 1392.9) rotate(90.1)" x="1.1" y="12.8" text-anchor="middle">−1</text><text transform="translate(394.6 1408.3) rotate(90.2)" x="1.1" y="12.8" text-anchor="middle">−1.8</text><text transform="translate(422.5 1408.3) rotate(90.3)" x="1.1" y="12.8" text-anchor="middle">−2.6</text><text transform="translate(828.5 1445.1) rotate(88.6)" x="1.1" y="12.8" text-anchor="middle">−1</text><text transform="translate(716.4 1567.0) rotate(88.8)" x="1.1" y="12.8" text-anchor="middle">−1.8</text><text transform="translate(616.5 1808.4) rotate(87.6)" x="1.1" y="12.8" text-anchor="middle">−2.6</text><text transform="translate(376.9 1861.2) rotate(91.0)" x="1.1" y="12.8" text-anchor="middle">−1</text><text transform="translate(396.3 1884.4) rotate(89.7)" x="1.1" y="12.8" text-anchor="middle">−1.8</text><text transform="translate(427.6 1880.6) rotate(88.9)" x="1.1" y="12.8" text-anchor="middle">−2.6</text><text transform="translate(945.9 1869.5) rotate(31.0)" x="1.1" y="12.8" text-anchor="middle">−1</text><text transform="translate(898.2 1988.6) rotate(15.1)" x="1.1" y="12.8" text-anchor="middle">−1.8</text><text transform="translate(1499.6 1928.3) rotate(0.6)" x="1.1" y="12.8" text-anchor="middle">−1</text><text transform="translate(1481.9 2018.1) rotate(0.5)" x="1.1" y="12.8" text-anchor="middle">−1.8</text><text transform="translate(884.1 2093.1) rotate(-1.3)" x="1.1" y="12.8" text-anchor="middle">−2.6</text><text transform="translate(1477.9 2093.2) rotate(0.8)" x="1.1" y="12.8" text-anchor="middle">−2.6</text><text transform="translate(554.9 2164.7) rotate(46.5)" x="1.1" y="12.8" text-anchor="middle">−3.4</text><text transform="translate(1101.1 2245.1) rotate(1.4)" x="1.1" y="12.8" text-anchor="middle">−2.6</text><text transform="translate(1081.4 2267.2) rotate(1.2)" x="1.1" y="12.8" text-anchor="middle">−1.8</text><text transform="translate(968.9 2281.2) rotate(-0.6)" x="1.1" y="12.8" text-anchor="middle">−1</text><text transform="translate(513.0 2268.1) rotate(-7.7)" x="1.1" y="12.8" text-anchor="middle">−2.6</text><text transform="translate(479.7 2284.3) rotate(-0.6)" x="1.1" y="12.8" text-anchor="middle">−1.8</text><text transform="translate(403.9 2283.8) rotate(23.0)" x="1.1" y="17.8" text-anchor="middle">−1</text></g>
<path d="M355.6 2362.5v-14.8M517.9 2362.5v-14.8M680.2 2362.5v-14.8M842.4 2362.5v-14.8M1004.7 2362.5v-14.8M1167.0 2362.5v-14.8M1329.3 2362.5v-14.8M1491.6 2362.5v-14.8M274.5 2298.5h19M274.5 2171.2h19M274.5 2043.9h19M274.5 1916.6h19M274.5 1789.3h19M274.5 1662.0h19M274.5 1534.7h19M274.5 1407.4h19" stroke="#000" stroke-width="2.9" fill="none"/>
<rect x="274.5" y="1280.6" width="1379.0" height="1081.9" fill="none" stroke="#000" stroke-width="2.8"/>
<g font-size="48"><text x="355.6" y="2417.2" text-anchor="middle">2</text><text x="517.9" y="2417.2" text-anchor="middle">3</text><text x="680.2" y="2417.2" text-anchor="middle">4</text><text x="842.4" y="2417.2" text-anchor="middle">5</text><text x="1004.7" y="2417.2" text-anchor="middle">6</text><text x="1167.0" y="2417.2" text-anchor="middle">7</text><text x="1329.3" y="2417.2" text-anchor="middle">8</text><text x="1491.6" y="2417.2" text-anchor="middle">9</text><text x="246.0" y="2312.5" text-anchor="end">2</text><text x="246.0" y="2185.2" text-anchor="end">3</text><text x="246.0" y="2057.9" text-anchor="end">4</text><text x="246.0" y="1930.6" text-anchor="end">5</text><text x="246.0" y="1803.3" text-anchor="end">6</text><text x="246.0" y="1676.0" text-anchor="end">7</text><text x="246.0" y="1548.7" text-anchor="end">8</text><text x="246.0" y="1421.4" text-anchor="end">9</text></g>
<text transform="translate(851.7 2483.2)"><tspan x="-1" y="0" font-size="50" font-style="italic" textLength="38" lengthAdjust="spacingAndGlyphs">R</tspan><tspan x="40.8" y="7" font-size="35" textLength="98.1" lengthAdjust="spacing">Si—H′</tspan><tspan x="143.9" y="11" font-size="68">/</tspan><tspan x="171.4" y="0" font-size="50" font-style="italic">a</tspan><tspan x="201.1" y="7" font-size="35">0</tspan></text>
<text transform="translate(164.0 1924.1) rotate(-90)"><tspan x="-1" y="0" font-size="50" font-style="italic" textLength="38" lengthAdjust="spacingAndGlyphs">R</tspan><tspan x="39.8" y="7" font-size="35" textLength="91.3" lengthAdjust="spacing">Si—H</tspan><tspan x="137.3" y="11" font-size="68">/</tspan><tspan x="164.7" y="0" font-size="50" font-style="italic">a</tspan><tspan x="195.9" y="7" font-size="35">0</tspan></text>
<text x="1563.0" y="1341.6" font-size="48" textLength="60" lengthAdjust="spacing">(c)</text>
</g>
<g id="panel-d">
<path d="M2060.6 1280.6l1 129.7l3.3 207.1l-0.7 40.6l-3.2 71.6l-0.9 32.9l0.3 114.2l-0.9 21.3l-2.4 32.9l-3.6 83.2l-1 7.8l-1.9 8.4l-2.9 7l-1 1.7l-2 1.2l-2-0.8l-1.3-2.1l-2.6-5.8l-2-7.9l-1.3-9.5l-4.8-85.1l-2.4-32.9l-0.9-23.3l-0.4-92.9l-2.4-100.6l-0.4-38.7l3.6-185.8l1.1-174.2M2081.8 1280.6l0.7 127.7l2.2 174.2l0.1 40.7l-0.8 38.7l-3.3 65.8l-1 30.9l-0.3 31l0.9 87.1l-1.9 54.2l-1.6 83.2l-1.2 15.5l-2.9 21.3l-3.2 17.4l-3.7 15.5l-5.3 16.9l-4.1 10.2l-2.2 3.9l-3.2 3.8l-2.3 1.6l-2 0.4l-2-0.5l-2.1-1.5l-3-3.8l-2.8-5.3l-3.9-10.3l-6-19.7l-3.2-15.1l-2.7-17.7l-2-18.5l-0.9-16l-3.5-125.8l-0.3-114.2l-1.9-121.9l1.7-195.5l0.5-174.2M2097.3 1280.6l0.7 152.9l1.9 191.6l-0.6 38.7l-2.8 69.7l-0.8 31l0.5 110.3l-1 52.2l-0.3 83.3l-0.5 15.4l-2.4 31l-2.5 23.2l-4.8 31l-4.1 15.5l-3.1 7.7l-2.9 5.8l-3.8 5.8l-3.3 3.9l-5 4.6l-5.9 4.1l-4 1.7l-3.9 0.5l-4-1l-3.2-2.2l-2.7-2.6l-4-5.5l-3.9-7.2l-4-8.8l-5-14.6l-4-17.4l-3.6-23.2l-2.5-25.2l-1.9-29l-2.8-131.6l-0.3-121.9l-1.9-125.8l1.3-185.8l0.4-178.1M3292.7 2204.3l-505.5-0.2l-112.6-1.1l-140.2-2.6l-61.2-2.2l-47.5-4.1l-15.4-1.9l-18.1-3.2l-2.8-0.7l-4.5-1.9l-1.2-2l1.5-1.9l7-2.7l14.9-3.1l13-1.9l27.4-2.8l31.6-1.3l63.2-0.5l108.6-1.5l90.9-0.6l550.9-0.1M2122.6 1280.6l0.6 189.7l2.6 172.2l-2.1 122l-0.1 158.7l1.4 63.8l3 89.1l0 30.9l-0.5 11.6l-1.1 9.7l-1.9 11.6l-1.8 7.8l-2.5 7.7l-3.4 7.8l-3.4 5.8l-4.3 5.8l-3.5 3.8l-4.4 3.9l-5.7 3.9l-5.4 2.7l-5.9 2.3l-7.9 2.3l-7.9 1.6l-11.8 1.9l-6 0.4l-5.9-0.6l-3.9-1.4l-6-3.3l-3.9-3.1l-4-3.7l-4-4.9l-3.9-6.4l-3.1-7.2l-5.1-17.4l-5.6-28.8l-3.6-29.3l-2.3-28.6l-2-43l-1.1-63.8l-0.7-73.6l0-114.2l-1.9-125.8l1.1-361.9M3292.7 2225.3l-529.2-0.2l-229.1-1.4l-75-1.7l-90.8-3.6l-43.5-3.4l-25.7-1.5l-47.4-9l-28.9-4.6l-8.6-2l-17.7-5.3l-11.9-2.6l-15.8-5.7l-15.8-1.3l-5.9 0.3l-5.9 1.5l-28.4 11.3l-16.1 5.8l-8.9 2.2l-11.8 2.1l-21.7 2.4l-7.9-0l-4-0.8l-5.7-2.1l-9.7-5.8l-4.3-3.6l-3.8-4.1l-4.9-7.8l-4.5-11.6l-4.6-17.4l-4.1-21.3l-3.5-25.1l-2.3-27.1l-1.7-32.9l-1-32.9l-0.9-62l-0.5-71.6l0.1-114.2l-1.8-131.6l0.9-356.1M2134.5 1280.6l0.6 197.4l3 172.3l-1 114.2l0.2 150.9l2.2 65.8l1.4 21.3l3.8 38.7l2.7 17.8l3.9 18.6l4.7 17.8l7.2 19.3l5.9 12.4l2.2 3.1l3.7 3.8l15.8 9.7l4 1.9l3.9 1.2l45.4 4.7l7.9 0.4l21.8-1.5l25.6-3.8l25.7-0.4l31.6-3.5l19.7-1.6l51.4-2.7l39.5-1.1l98.7-0.4l726.7 0.2M3292.7 2237.3l-503.5-0.1l-250.8-0.9l-69.1-0.8l-96.8-3l-74-3.5l-76.1-9.6l-37.5-6.3l-15.8-3.4l-21.7-2.8l-7.9-0.1l-11.9 1.2l-31.6 5.9l-11.8 1.7l-33.6 2.7l-7.9-0.7l-5.9-1.8l-7.9-3.7l-5.9-3.7l-5.9-5.4l-6.1-8.9l-2.8-5.8l-2.9-7.7l-4-14.5l-4-20.2l-3.4-25.3l-2.5-30.2l-1.3-26l-1.3-44.5l-0.8-61.9l-0.2-187.7l-1.7-133.6l0.8-356.1M2146.4 1280.6l0.7 201.3l3.4 172.2l-0.3 112.3l0.9 141.3l0.6 23.2l2.4 40.6l1.8 21.3l3.1 21.3l4.3 23.2l4.9 17.5l5.8 13.5l8 13.6l8.8 11.8l8 7.5l5.9 3.8l7.9 4l9.8 3.8l11.9 3.7l15.8 3.5l19.7 1.2l9.9-0.1l19.7-1.1l27.7 0.7l43.4-2.4l57.3-2.1l79-1.6l785.9-0.3M3292.7 2252.3l-756.3-0.4l-57.3-0.3l-49.3-0.9l-136.3-4l-73.1-6.1l-35.5-4.1l-35.5-5l-11.9-0.9l-21.7 0.1l-27.7 2l-41.4 1.8l-7.9-1.1l-7.9-2.3l-7.9-3.3l-5.9-3.6l-4-3.5l-3.9-4.6l-6.6-10.4l-5.3-12l-3.7-13.1l-3.2-19.4l-3-25.5l-1.9-25.7l-1.4-30.1l-1.3-54.2l-0.6-61.9l-0.1-193.5l-1.4-135.5l0.5-354.2M2170.6 1280.6l0.6 187.7l0.8 62l2.5 114.2l0.5 129.6l1.9 94.9l2.2 58l3.1 32.9l2.7 21.3l3.3 17.4l4.6 16.2l5.9 15.1l6.4 11.3l4.4 5.8l5 5.5l9.9 8.3l7.9 5l9.9 5l7.9 2.9l9.6 2.4l18 2.5l21.7 1.1l19.8 1.9l9.9 0.5l80.9-1.4l81-2.1l122.4 0.2l150.1-2.8l529.2-0.2M3292.7 2258.1l-768.1-0.4l-98.8-1l-134.3-3.7l-69.1-5l-37.5-3.7l-37.5-4.6l-11.9-0.8l-23.7-0.2l-59.2 2.5l-7.9-0l-7.9-1.2l-9.9-2.6l-6.7-2.6l-5.1-3.1l-4-3.4l-3.9-4.4l-7.1-10.4l-4.8-10.2l-4-13.1l-3.1-17.4l-2.7-23.3l-2.3-28.9l-1.6-32.9l-1.3-58.1l-0.6-63.9l0-195.4l-1.4-135.5l0.5-354.2M2183 1280.6l0.5 181.9l3 178.1l0.4 129.7l2.2 87.1l3 63.8l2.3 23.2l4 27.1l3.3 15.5l4.3 13.6l6.6 14.2l7.8 12.3l7.9 9l9.9 8.2l7.7 4.7l6.1 2.8l7.9 2.7l9.9 2.4l9.9 1.7l21.7 2.1l17.8 2.5l17.8 1l75-0.6l88.9-2.6l75 0.5l33.6-0.2l104.6-3l49.4-0.7l529.2-0.1M3292.7 2263.1l-778-0.3l-90.9-0.8l-132.3-3.4l-68.2-4.5l-40.4-3.5l-37.5-4.1l-13.8-0.8l-21.7-0.3l-65.2 1.9l-7.9-0.9l-11.8-2.8l-6-2l-5.9-3.3l-3.9-3.2l-4.2-4.2l-3.7-4.7l-3.3-5l-4.6-9.6l-4.3-13.6l-3.3-17.4l-2.3-20.4l-2.4-30l-1.6-30.9l-1-34.9l-0.9-54.1l-0.4-112.3l0.2-129.7l-1.5-133.5l0.5-354.2M2194.9 1280.6l0.6 178.1l2.8 181.9l0.3 123.9l2.1 73.5l3.2 58.1l2.3 25.1l2.5 17.4l5.3 25.2l5 17.4l5.9 13.6l7.2 11.6l8.3 9.7l9.7 8l5.9 3.6l7.9 3.7l7.9 2.8l9.9 2.6l41.4 7.8l13.9 1.1l19.7 0.4l57.3 0.2l90.8-3.9l90.8 0l102.7-2.8l49.4-0.7l545-0.1M3292.7 2271.8l-795.8-0.2l-94.8-1l-100.7-2.1l-19.3-0.8l-59.7-3.4l-39.5-3l-37.5-3.4l-17.8-0.9l-17.7-0.4l-33.6 0.4l-33.6 1l-11.8-1.5l-11.9-2.5l-5.9-2.4l-7.9-4.9l-3.9-3.3l-4-4.1l-5.4-8.4l-4.5-11.4l-3.9-15.9l-2.7-17.2l-2.3-23.2l-2.6-36.8l-1.4-31l-1.6-85.1l-0.3-62l0.2-178l-1.6-139.4l0.6-350.3M2220.9 1280.6l0.8 187.7l3 174.2l0.7 112.3l1.5 56.1l2.6 42.6l2.6 25.1l3.4 21.3l3.9 17.5l5.2 15.4l6.6 13.6l8.7 12.7l9.9 10.5l9.9 7.7l7.9 4.6l27.6 13.8l7.9 3.3l7.9 2.3l13.9 2.8l19.7 2.7l19.7 1.7l17.8 0.8l19.8-0.1l21.7-1.5l61.2-7.8l27.6-2.7l29.7-1.7l35.5-0.9l37.5 0.2l88.9 3.3l61.2 1l507.5 0.1M3292.7 2275.5l-811.6-0.1l-59.2-0.6l-118.5-2.2l-77-3.6l-96.8-7l-23.7-0.4l-35.5 0.3l-21.7 1l-7.9-0.1l-13.9-1.8l-9.8-2.2l-7.9-3.4l-7.9-5.2l-6.1-5.8l-2.9-3.8l-2.9-5.3l-3.9-10.5l-4.1-17.1l-3-19.4l-2.3-23.2l-2.8-40.7l-1.4-32.9l-1.4-81.2l-0.3-60l0.3-180l-1.6-141.3l0.5-348.4M2234.7 1280.6l1 205.2l3.3 160.6l1.3 106.4l2 62l1.5 23.2l1.8 17.4l3.2 21.3l4.7 19.4l5.6 15.4l6.8 13l7.6 10.3l8.2 8.2l7.9 6.2l25.6 18.2l7.9 4.7l9.9 4.5l9.9 3.4l11.8 3.2l13.9 2.9l13.8 2.1l13.8 1.3l13.8 0.5l17.8-0.5l17.8-1.7l59.2-9.6l29.6-3.7l31.6-2.4l31.6-1.1l39.5 0.4l90.8 4.8l59.3 1.3l505.5 0.2M3292.7 2278.9l-815.5-0.1l-57.3-0.5l-118.5-2.1l-75-3.2l-98.8-6.4l-17.7-0.4l-33.6 0.2l-27.6 1.1l-7.9-0.1l-14.9-1.7l-8.8-1.8l-9.7-4l-8.1-5.1l-4-3.4l-2.7-3.1l-5.2-8.4l-3.9-10.7l-4-17.7l-3.1-19.3l-2.3-21.3l-2.8-38.7l-1.6-35l-1.5-85l0.1-240l-1.6-143.2l0.5-348.4M2249.1 1280.6l0.5 156.8l1.3 94.8l5.9 232.3l1.8 40.6l2.4 29l2.9 20l3.9 17.6l4.9 14.7l6.5 13.5l6.4 9.9l10 11.4l14.4 13.6l13.1 10l7.9 4.7l9.9 4.7l11.9 4.6l11.8 3.7l11.8 2.9l11.9 2.1l11.8 1.3l11.9 0.4l13.8-0.4l15.8-1.5l57.3-9l31.6-3.8l35.5-2.7l39.5-1.4l41.5 0.1l90.8 2.9l59.3 0.8l495.6 0.1M3292.7 2284.9l-819.5-0.1l-171.8-2.1l-75-2.7l-100.7-5.3l-47.4-0l-31.6 1.1l-7.9-0.2l-15.8-1.5l-7.9-1.5l-11.9-4.7l-7.9-4.9l-5.9-6l-3.2-4.8l-2.7-5.3l-4.2-12.1l-4.3-19.4l-3.2-19.3l-2.2-19.4l-2.5-32.9l-1.7-36.8l-1.5-90.9l0.3-243.9l-1.4-145.2l0.4-346.4M2281.8 1280.6l0.6 156.8l1.6 94.8l6.4 185.8l2.1 36.8l2.5 29l3.4 25.2l4.2 21.3l4.7 17.4l6 15.6l7 13.4l4 5.8l4.7 5.8l9.9 9.5l11.9 8.5l13.8 7.2l7.9 3.2l8.3 2.6l8.4 1.9l9 1.4l17.7 0.9l19.8-1.1l47.4-5.4l31.6-2.6l185.6-11.8l47.4-2.1l59.2-0.6l199.5 0.5l286.3-0.1M3292.7 2287.6l-821.5 0l-171.8-2.1l-72.7-2.4l-99.1-4.7l-49.3 0l-31.6 1.1l-9.4-0.2l-16.3-1.5l-7.9-1.7l-9.9-3.6l-8.4-4.8l-3.4-2.9l-4-4.6l-2.6-4.1l-2.9-5.9l-4.8-13.5l-4-17.4l-3.4-19.4l-2.3-19.3l-2.2-31l-1.8-36.8l-0.9-38.7l-0.5-56.1l0.3-243.9l-1.4-147.1l0.4-346.4M2300.9 1280.6l0.7 154.8l1.6 98.7l5.7 170.4l1.9 32.9l2.4 27.1l3.2 23.2l4.3 21.3l4.4 15.8l5.9 15.3l7.4 13.4l8.4 11l9.9 9.5l5.9 4.5l6 3.8l11.8 5.7l11.8 3.6l11.9 1.9l13.8 0.4l21.7-1.8l49.4-7.4l29.6-3.4l75.1-5.2l92.8-8.1l45.4-2.4l61.2-0.7l207.3 0.6l292.3-0.1M3292.7 2290.2l-821.5 0l-171.8-1.9l-71.1-2.2l-98.7-4.3l-49.4 0l-33.5 1.1l-9.9-0.2l-15.8-1.3l-7.9-1.5l-11.8-4.1l-7.9-4.4l-4-3.5l-3.4-4.1l-5.4-9.7l-5.6-15.5l-4.2-17.4l-3.1-17.9l-2.3-18.9l-2-29l-1.8-38.7l-0.9-40.6l-0.5-56.2l0.4-245.8l-1.4-147.1l0.4-346.4M2321.5 1280.6l1 151l1.9 100.6l2.3 61.9l4 83.3l1.9 29l2.3 23.2l3.2 21.3l4.3 19.4l5.5 17.4l6.8 16.3l7.9 14.4l7.9 11l4.2 4.7l5.7 5.3l9.9 6.8l7.9 3.7l9.8 2.7l9.9 1.2l11.9-0.2l9.8-1.2l11.9-2.2l51.3-13.1l13.9-2.5l13.8-2l23.7-2.3l80.9-6.6l29.7-1.8l31.5-1.2l67.2-0.9l181.7 0.7l347.5-0" fill="none" stroke="#bababa" stroke-width="1.9" stroke-linejoin="round"/>
<path d="M2110.2 1280.6l0.7 174.2l2.2 185.7M2111.1 1714.2l-1 34.8l-0.4 30.9l0.4 87.1l-0.6 62l0.9 92.9l-1.7 48.4l-2.3 31.3M2083.6 2170l-6.6 4.8l-6.6 3.2l-9.9 3.3l-7.9 1.7l-5.9-0.2l-4-1.3l-4.4-2.9l-5.4-5.4l-5.8-8.1l-4.1-7.6l-3.9-9.8l-2.4-7.8l-3.3-13.5l-2.3-12.5l-4.6-37.8l-3.3-52.3l-1.5-65.8l-1-75.5l0-116.1l-1.9-116.1l1-201.3l0.3-168.4M2158.7 1280.6l0.5 176M2160.1 1530.4l2.6 117.9l0.2 116.2l1.2 110.3l0.9 44.5l1.5 25.2M2176.4 2017.4l5.5 18l5.7 13.6l7.2 12.5l7.1 8.8l4.7 4.5l6 4.7l11.8 7.1l13.8 6l13.8 3.9l9.9 1.4l11.9 1l25.6 0.2l29.7 1.5l150-4.2l39.5-0.4l52 0.2M2644.4 2096.2l123-1.4l344.2-0.1M3185.5 2094.7l107.2 0M2028.4 2221.5l-5.4-2.8l-4-2.7l-3.9-3.6l-3.8-4.7l-6.7-11.6l-5.1-13.6l-4.2-18.1l-3.6-24.5l-2.4-23.2l-1.9-31l-1.8-58l-0.7-62l-0.2-195.4l-1.5-129.7l0.6-360M2570.6 2245.1l-113.2-0.9l-81-2.1l-75-2.6l-77-7.5l-79-11.5l-7.9-0.3l-11.8 0.4l-24.5 2.4M3292.7 2245.6l-127 0M3091.9 2245.6l-447.5-0.4M2207.5 1280.6l0.9 195.5l2.7 162.6l0.3 118l1.4 54.3M2217.4 1884.6l3.2 26.9l4 21.3l6.4 21.3l3.6 9.7l4.4 9.7l7.1 11.9l4 4.9l4.5 4.5l5.3 4.3l6 3.9l6.2 3.4l7.6 3.3l37.5 11.8l9.9 2.3l17.8 2l35.5 1.9l25.7 0.5l21.7-0.5l19.7-1.2l63.2-5.2l23.7-0.9l32.2-0.5M2640.4 2018.8l471.2 0.4M3185.5 2019.2l107.2 0M2037.5 2252.2l-16.5-3.4l-5.9-2.4l-4-2.3l-5.9-4.6l-4.6-4.7l-3.3-4.3l-3.9-7.1l-3.3-8l-2.3-7.7l-3.7-17.5l-2.6-21.6l-2.5-32.5l-1.5-27.1l-1.3-36.8l-1.2-108.4l0.1-193.5l-1.5-149.1l0.5-340.6M2570.6 2267.4l-123.1-0.3l-148.1-3.2l-75-4.3l-41.5-3.4l-41.4-4l-30.3-0.9M3292.7 2267.7l-127 0M3091.9 2267.7l-447.5-0.3M2264.8 1280.6l0.4 143.2l1 85.2l1.4 56.1l6.2 189.2M2276.8 1801.7l3.5 28.6l4.4 21.2l3 9.7l3.7 9.7l4.1 8.6l5 8.8l6.3 9.7l5.9 7.7l6.5 7.3l5.9 5.4l7.9 5.9l7.9 4.7l9.9 4.9l9.9 4l13.8 4.4l15.8 3.3l13.8 1.4l15.8 0.2l19.7-1.5l51.4-6.6l33.6-3.4l47.3-3.1l49.4-2M2668.7 1929.7l84.9-0.5l385 0.3M3186.1 1929.5l106.6 0M2030.9 2270.9l-9.9-1.4l-5.9-1.4l-6.3-2.4l-7.4-3.8l-5.5-3.9l-3.9-3.9l-2.9-3.9l-3.3-5.8l-2.3-5.5l-2.5-8l-5.2-25.2l-3.3-25.1l-2.8-35l-1.7-28.9l-0.9-27.1l-1.1-77.4l0.2-240l-1.5-152.9l0.4-338.7M2544.3 2281.9l-106.6-0.2l-140.2-2.2l-73.1-2.9l-88.9-5.5l-23.7-0.6l-33.5 0.2M3292.7 2282l-201.4 0M3043.9 2282l-452.2-0.1" fill="none" stroke="#000" stroke-width="2.0" stroke-linejoin="round"/>
<g font-size="29" letter-spacing="2.3"><text transform="translate(2159.6 1493.5) rotate(89.3)" x="1.1" y="12.8" text-anchor="middle">−2.6</text><text transform="translate(2112.1 1677.4) rotate(-88.5)" x="1.1" y="12.8" text-anchor="middle">−3.4</text><text transform="translate(2275.3 1778.0) rotate(86.3)" x="1.1" y="12.8" text-anchor="middle">−1</text><text transform="translate(2215.1 1847.8) rotate(86.5)" x="1.1" y="12.8" text-anchor="middle">−1.8</text><text transform="translate(2171.5 1981.0) rotate(82.3)" x="1.1" y="12.8" text-anchor="middle">−2.6</text><text transform="translate(2095.0 2135.8) rotate(-71.6)" x="1.1" y="12.8" text-anchor="middle">−3.4</text><text transform="translate(2645.0 1930.1) rotate(-1.1)" x="1.1" y="12.8" text-anchor="middle">−1</text><text transform="translate(3162.4 1929.5) rotate(-0.0)" x="1.1" y="12.8" text-anchor="middle">−1</text><text transform="translate(2603.5 2019.4) rotate(-0.8)" x="1.1" y="12.8" text-anchor="middle">−1.8</text><text transform="translate(3148.5 2019.2) rotate(-0.0)" x="1.1" y="12.8" text-anchor="middle">−1.8</text><text transform="translate(2607.5 2096.2) rotate(-0.0)" x="1.1" y="12.8" text-anchor="middle">−2.6</text><text transform="translate(3148.5 2094.7) rotate(0.0)" x="1.1" y="12.8" text-anchor="middle">−2.6</text><text transform="translate(2064.8 2222.3) rotate(1.2)" x="1.1" y="12.8" text-anchor="middle">−2.6</text><text transform="translate(2074.4 2251.7) rotate(-0.7)" x="1.1" y="12.8" text-anchor="middle">−1.8</text><text transform="translate(2054.6 2270.8) rotate(-0.2)" x="1.1" y="12.8" text-anchor="middle">−1</text><text transform="translate(2607.5 2245.1) rotate(0.1)" x="1.1" y="12.8" text-anchor="middle">−2.6</text><text transform="translate(2607.5 2267.4) rotate(-0.0)" x="1.1" y="12.8" text-anchor="middle">−1.8</text><text transform="translate(2568.0 2281.9) rotate(-0.1)" x="1.1" y="12.8" text-anchor="middle">−1</text><text transform="translate(3128.8 2245.6) rotate(0.0)" x="1.1" y="12.8" text-anchor="middle">−2.6</text><text transform="translate(3128.8 2267.7) rotate(0.0)" x="1.1" y="12.8" text-anchor="middle">−1.8</text><text transform="translate(3067.6 2282.0) rotate(0.0)" x="1.1" y="12.8" text-anchor="middle">−1</text></g>
<path d="M1985.6 2362.5v-14.8M2130.8 2362.5v-14.8M2276.1 2362.5v-14.8M2421.3 2362.5v-14.8M2566.6 2362.5v-14.8M2711.8 2362.5v-14.8M2857.1 2362.5v-14.8M3002.3 2362.5v-14.8M3147.6 2362.5v-14.8M1912.4 2298.5h19M1912.4 2171.2h19M1912.4 2043.9h19M1912.4 1916.6h19M1912.4 1789.3h19M1912.4 1662.0h19M1912.4 1534.7h19M1912.4 1407.4h19" stroke="#000" stroke-width="2.9" fill="none"/>
<rect x="1912.4" y="1280.6" width="1380.3" height="1081.9" fill="none" stroke="#000" stroke-width="2.8"/>
<g font-size="48"><text x="1985.6" y="2417.2" text-anchor="middle">1</text><text x="2130.8" y="2417.2" text-anchor="middle">2</text><text x="2276.1" y="2417.2" text-anchor="middle">3</text><text x="2421.3" y="2417.2" text-anchor="middle">4</text><text x="2566.6" y="2417.2" text-anchor="middle">5</text><text x="2711.8" y="2417.2" text-anchor="middle">6</text><text x="2857.1" y="2417.2" text-anchor="middle">7</text><text x="3002.3" y="2417.2" text-anchor="middle">8</text><text x="3147.6" y="2417.2" text-anchor="middle">9</text><text x="1883.9" y="2312.5" text-anchor="end">2</text><text x="1883.9" y="2185.2" text-anchor="end">3</text><text x="1883.9" y="2057.9" text-anchor="end">4</text><text x="1883.9" y="1930.6" text-anchor="end">5</text><text x="1883.9" y="1803.3" text-anchor="end">6</text><text x="1883.9" y="1676.0" text-anchor="end">7</text><text x="1883.9" y="1548.7" text-anchor="end">8</text><text x="1883.9" y="1421.4" text-anchor="end">9</text></g>
<text transform="translate(2525.8 2483.2)"><tspan x="-1" y="0" font-size="50" font-style="italic" textLength="38" lengthAdjust="spacingAndGlyphs">R</tspan><tspan x="41.0" y="7" font-size="35" textLength="94.5" lengthAdjust="spacing">H—H′</tspan><tspan x="140.6" y="11" font-size="68">/</tspan><tspan x="167.3" y="0" font-size="50" font-style="italic">a</tspan><tspan x="197.0" y="7" font-size="35">0</tspan></text>
<text transform="translate(1786.8 1928.0) rotate(-90)"><tspan x="-1" y="0" font-size="50" font-style="italic" textLength="38" lengthAdjust="spacingAndGlyphs">R</tspan><tspan x="40.8" y="7" font-size="35" textLength="98.1" lengthAdjust="spacing">Si—H′</tspan><tspan x="143.9" y="11" font-size="68">/</tspan><tspan x="171.4" y="0" font-size="50" font-style="italic">a</tspan><tspan x="201.1" y="7" font-size="35">0</tspan></text>
<text x="3202.2" y="1341.6" font-size="48" textLength="60" lengthAdjust="spacing">(d)</text>
</g>
</svg>
</body></html>
